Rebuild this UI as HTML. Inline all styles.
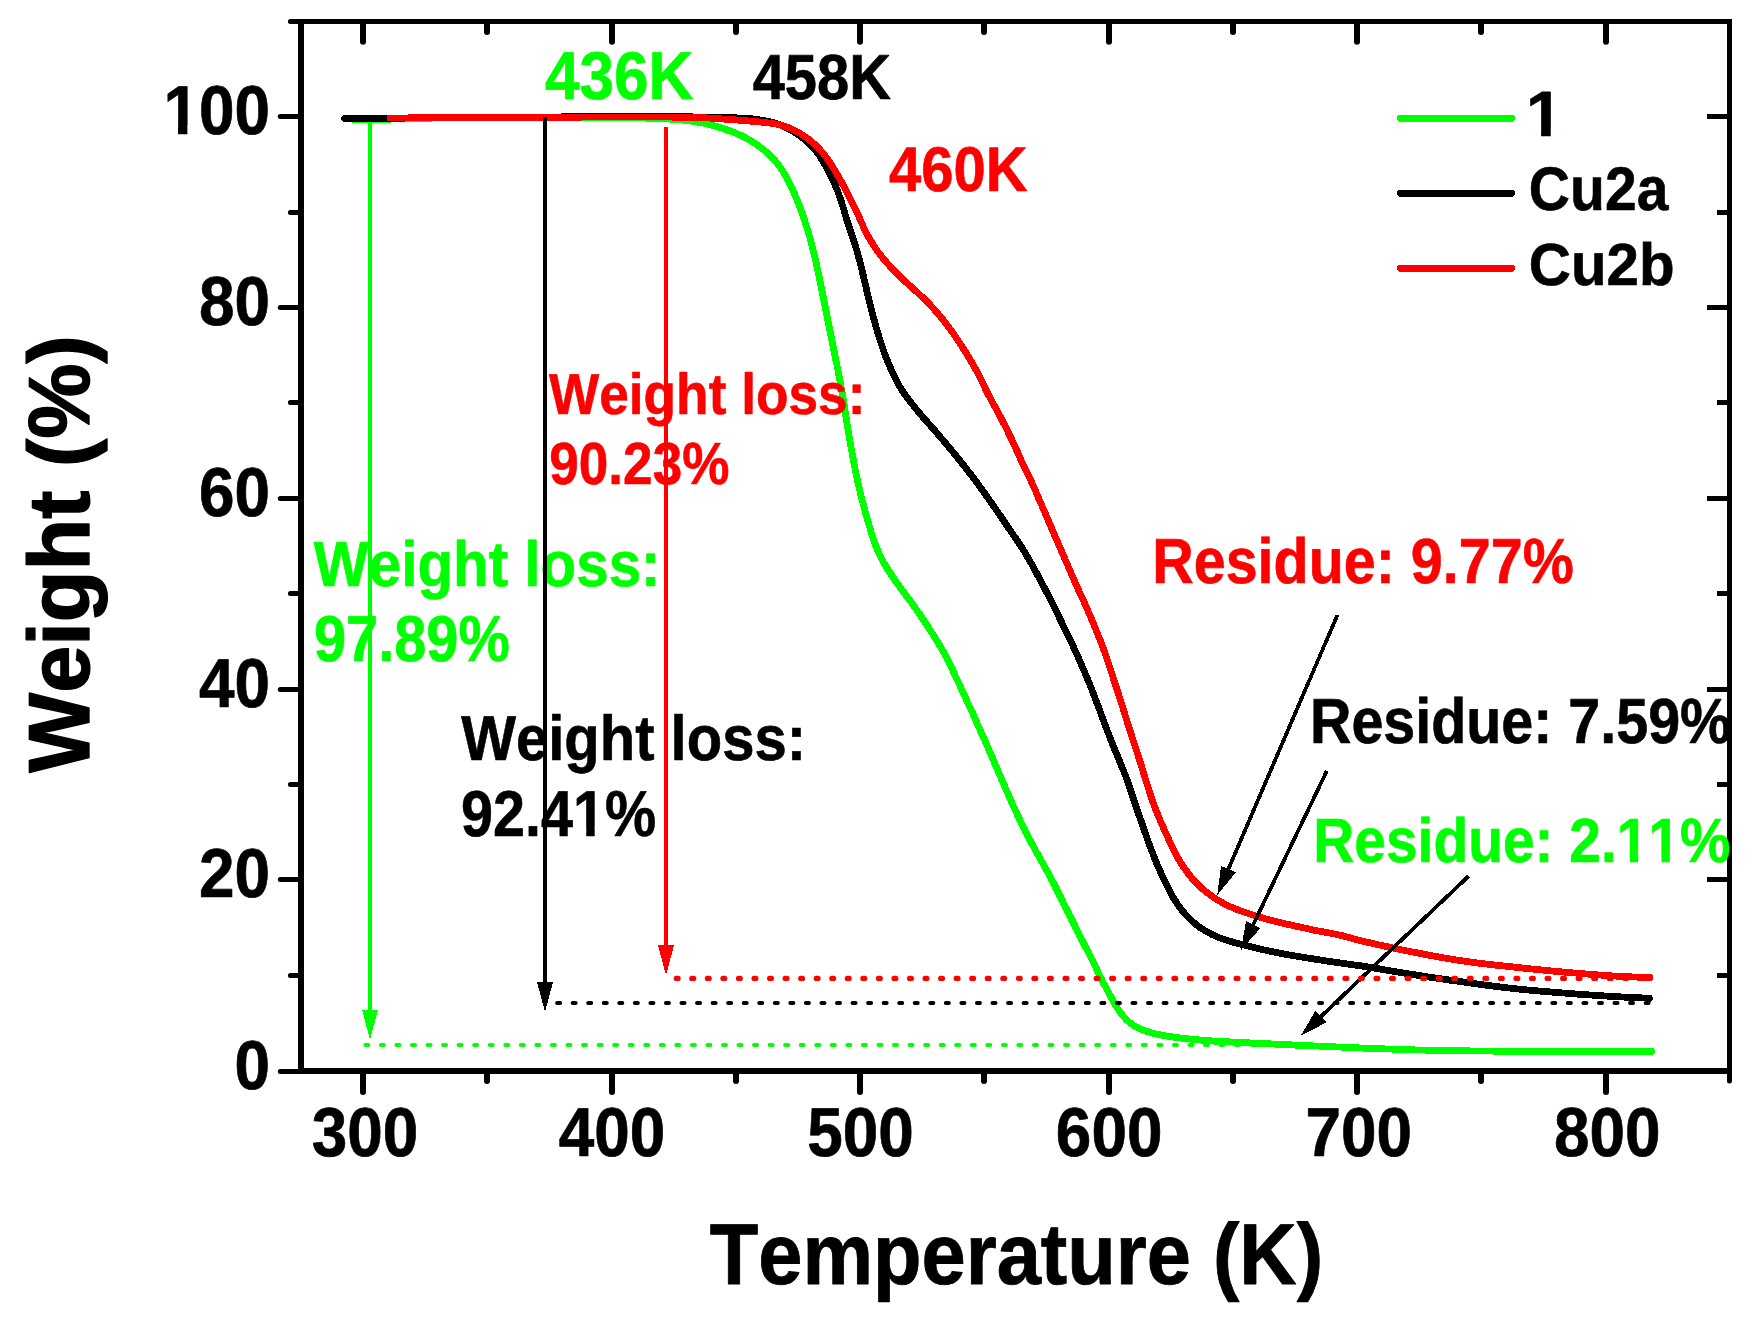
<!DOCTYPE html>
<html><head><meta charset="utf-8"><title>TGA</title>
<style>html,body{margin:0;padding:0;background:#fff}svg{display:block}</style>
</head><body>
<svg width="1752" height="1318" viewBox="0 0 1752 1318">
<rect x="0" y="0" width="1752" height="1318" fill="#ffffff"/>
<g shape-rendering="crispEdges">
<path d="M354.5 120.0 C355.5 120.0 358.5 119.9 360.5 119.8 C362.5 119.8 364.5 119.7 366.5 119.7 C368.5 119.6 370.5 119.5 372.5 119.5 C374.5 119.4 376.5 119.4 378.5 119.3 C380.5 119.3 382.5 119.2 384.5 119.2 C386.5 119.1 388.5 119.1 390.5 119.1 C392.5 119.0 394.5 119.0 396.5 118.9 C398.5 118.9 400.5 118.8 402.5 118.8 C404.5 118.7 406.5 118.7 408.5 118.6 C410.5 118.6 412.5 118.6 414.5 118.5 C416.5 118.5 418.5 118.4 420.5 118.4 C422.5 118.3 424.5 118.3 426.5 118.3 C428.5 118.2 430.5 118.2 432.5 118.1 C434.5 118.1 436.5 118.1 438.5 118.0 C440.5 118.0 442.5 118.0 444.5 118.0 C446.5 117.9 448.5 117.9 450.5 117.9 C452.5 117.9 454.5 117.9 456.6 117.9 C458.6 117.8 460.6 117.8 462.6 117.8 C464.6 117.8 466.6 117.8 468.6 117.8 C470.6 117.8 472.6 117.8 474.6 117.8 C476.6 117.8 478.6 117.8 480.6 117.7 C482.6 117.7 484.6 117.7 486.6 117.7 C488.6 117.7 490.6 117.7 492.6 117.7 C494.6 117.7 496.6 117.7 498.6 117.7 C500.6 117.7 502.6 117.7 504.6 117.7 C506.6 117.7 508.6 117.7 510.6 117.7 C512.6 117.7 514.6 117.7 516.6 117.7 C518.6 117.7 520.6 117.7 522.6 117.7 C524.6 117.7 526.6 117.7 528.6 117.6 C530.6 117.6 532.6 117.6 534.6 117.6 C536.6 117.6 538.6 117.6 540.6 117.6 C542.6 117.6 544.6 117.6 546.6 117.6 C548.6 117.6 550.6 117.6 552.6 117.6 C554.6 117.6 556.6 117.6 558.6 117.6 C560.6 117.6 562.6 117.6 564.6 117.6 C566.6 117.6 568.6 117.6 570.6 117.6 C572.6 117.6 574.6 117.6 576.6 117.6 C578.6 117.6 580.6 117.6 582.6 117.6 C584.6 117.6 586.6 117.6 588.6 117.6 C590.6 117.6 592.6 117.6 594.7 117.6 C596.7 117.6 598.7 117.6 600.7 117.6 C602.7 117.6 604.7 117.6 606.7 117.6 C608.7 117.6 610.7 117.6 612.7 117.6 C614.7 117.6 616.7 117.6 618.7 117.6 C620.7 117.6 622.7 117.6 624.7 117.7 C626.7 117.7 628.7 117.7 630.7 117.7 C632.7 117.8 634.7 117.8 636.7 117.8 C638.7 117.9 640.7 117.9 642.7 118.0 C644.7 118.0 646.7 118.1 648.7 118.2 C650.7 118.2 652.7 118.3 654.7 118.4 C656.7 118.4 658.7 118.5 660.7 118.6 C662.7 118.7 664.7 118.8 666.7 118.9 C668.7 119.0 670.7 119.1 672.7 119.3 C674.7 119.4 676.7 119.5 678.7 119.7 C680.7 119.9 682.6 120.1 684.6 120.3 C686.6 120.5 688.6 120.7 690.6 121.0 C692.6 121.2 694.6 121.5 696.5 121.9 C698.5 122.2 700.5 122.6 702.4 123.0 C704.4 123.4 706.3 123.8 708.3 124.3 C710.2 124.7 712.2 125.2 714.1 125.8 C716.0 126.3 718.0 126.8 719.9 127.4 C721.8 128.0 723.7 128.6 725.6 129.3 C727.5 129.9 729.4 130.6 731.2 131.3 C733.1 132.0 734.9 132.8 736.8 133.6 C738.6 134.4 740.4 135.2 742.2 136.1 C744.0 137.0 745.8 137.9 747.5 138.9 C749.3 139.9 751.0 140.9 752.7 141.9 C754.4 143.0 756.1 144.1 757.7 145.2 C759.3 146.4 760.9 147.6 762.5 148.8 C764.1 150.1 765.6 151.4 767.1 152.7 C768.6 154.0 770.0 155.4 771.4 156.8 C772.8 158.2 774.2 159.7 775.5 161.2 C776.8 162.7 778.0 164.3 779.2 165.9 C780.4 167.5 781.5 169.2 782.6 170.8 C783.7 172.5 784.7 174.2 785.7 176.0 C786.7 177.7 787.6 179.5 788.5 181.3 C789.4 183.1 790.3 184.9 791.1 186.7 C792.0 188.5 792.8 190.3 793.7 192.1 C794.5 193.9 795.3 195.8 796.1 197.6 C796.9 199.4 797.6 201.3 798.4 203.2 C799.1 205.0 799.8 206.9 800.5 208.8 C801.2 210.6 801.9 212.5 802.6 214.4 C803.2 216.3 803.9 218.2 804.5 220.1 C805.1 222.0 805.7 223.9 806.3 225.8 C806.9 227.7 807.5 229.6 808.1 231.5 C808.6 233.5 809.2 235.4 809.7 237.3 C810.3 239.2 810.8 241.2 811.3 243.1 C811.8 245.0 812.3 247.0 812.8 248.9 C813.3 250.9 813.8 252.8 814.3 254.8 C814.7 256.7 815.2 258.6 815.6 260.6 C816.1 262.6 816.5 264.5 816.9 266.5 C817.3 268.4 817.8 270.4 818.2 272.3 C818.6 274.3 819.0 276.2 819.4 278.2 C819.8 280.2 820.2 282.1 820.6 284.1 C821.1 286.0 821.5 288.0 821.8 290.0 C822.2 291.9 822.6 293.9 823.0 295.9 C823.4 297.8 823.8 299.8 824.2 301.7 C824.6 303.7 825.0 305.7 825.3 307.6 C825.7 309.6 826.1 311.6 826.5 313.5 C826.9 315.5 827.3 317.5 827.7 319.4 C828.1 321.4 828.5 323.3 828.9 325.3 C829.3 327.3 829.6 329.2 830.0 331.2 C830.4 333.2 830.8 335.1 831.2 337.1 C831.6 339.0 832.0 341.0 832.4 343.0 C832.8 344.9 833.2 346.9 833.6 348.9 C834.0 350.8 834.4 352.8 834.8 354.7 C835.2 356.7 835.6 358.7 836.0 360.6 C836.4 362.6 836.8 364.5 837.2 366.5 C837.6 368.5 838.0 370.4 838.4 372.4 C838.7 374.4 839.1 376.3 839.5 378.3 C839.9 380.2 840.3 382.2 840.6 384.2 C841.0 386.1 841.3 388.1 841.7 390.1 C842.0 392.1 842.4 394.0 842.7 396.0 C843.0 398.0 843.3 400.0 843.6 401.9 C844.0 403.9 844.3 405.9 844.6 407.9 C844.9 409.8 845.2 411.8 845.5 413.8 C845.8 415.8 846.1 417.8 846.5 419.7 C846.8 421.7 847.1 423.7 847.4 425.7 C847.7 427.6 848.1 429.6 848.4 431.6 C848.7 433.6 849.0 435.5 849.4 437.5 C849.7 439.5 850.0 441.5 850.4 443.4 C850.7 445.4 851.0 447.4 851.4 449.3 C851.8 451.3 852.1 453.3 852.5 455.2 C852.8 457.2 853.2 459.2 853.6 461.2 C854.0 463.1 854.3 465.1 854.7 467.0 C855.1 469.0 855.5 471.0 855.9 472.9 C856.3 474.9 856.7 476.9 857.1 478.8 C857.5 480.8 858.0 482.7 858.4 484.7 C858.9 486.6 859.3 488.6 859.8 490.5 C860.2 492.5 860.7 494.4 861.2 496.4 C861.7 498.3 862.2 500.2 862.7 502.2 C863.2 504.1 863.7 506.0 864.2 508.0 C864.7 509.9 865.2 511.9 865.8 513.8 C866.3 515.7 866.8 517.6 867.4 519.6 C868.0 521.5 868.5 523.4 869.1 525.3 C869.7 527.2 870.3 529.1 870.8 531.1 C871.4 533.0 872.0 534.9 872.6 536.8 C873.2 538.7 873.9 540.6 874.6 542.5 C875.2 544.3 876.0 546.2 876.7 548.1 C877.5 549.9 878.3 551.7 879.1 553.6 C880.0 555.4 880.8 557.2 881.8 559.0 C882.7 560.7 883.6 562.5 884.6 564.2 C885.6 565.9 886.7 567.7 887.7 569.4 C888.8 571.0 889.9 572.7 891.0 574.4 C892.1 576.0 893.3 577.7 894.4 579.3 C895.5 581.0 896.7 582.6 897.9 584.2 C899.1 585.8 900.2 587.5 901.4 589.1 C902.6 590.7 903.8 592.3 905.0 593.9 C906.2 595.5 907.4 597.1 908.6 598.7 C909.7 600.3 910.9 601.9 912.1 603.6 C913.3 605.2 914.5 606.8 915.6 608.4 C916.8 610.1 917.9 611.7 919.0 613.4 C920.2 615.0 921.3 616.7 922.4 618.4 C923.5 620.0 924.6 621.7 925.7 623.4 C926.8 625.0 927.9 626.7 929.0 628.4 C930.1 630.1 931.2 631.7 932.3 633.4 C933.4 635.1 934.4 636.8 935.5 638.5 C936.6 640.2 937.6 641.9 938.6 643.6 C939.7 645.3 940.7 647.0 941.7 648.8 C942.7 650.5 943.6 652.3 944.6 654.0 C945.5 655.8 946.4 657.6 947.4 659.3 C948.3 661.1 949.2 662.9 950.0 664.7 C950.9 666.5 951.8 668.3 952.6 670.1 C953.5 671.9 954.3 673.8 955.2 675.6 C956.0 677.4 956.9 679.2 957.7 681.0 C958.6 682.8 959.4 684.6 960.3 686.5 C961.1 688.3 961.9 690.1 962.8 691.9 C963.6 693.7 964.5 695.5 965.3 697.3 C966.2 699.2 967.0 701.0 967.8 702.8 C968.7 704.6 969.5 706.4 970.4 708.2 C971.2 710.1 972.0 711.9 972.9 713.7 C973.7 715.5 974.5 717.4 975.3 719.2 C976.1 721.0 976.9 722.8 977.7 724.7 C978.5 726.5 979.4 728.3 980.2 730.2 C981.0 732.0 981.8 733.8 982.6 735.6 C983.4 737.5 984.3 739.3 985.1 741.1 C985.9 743.0 986.7 744.8 987.5 746.6 C988.3 748.5 989.1 750.3 989.9 752.1 C990.7 754.0 991.5 755.8 992.3 757.6 C993.0 759.5 993.8 761.3 994.6 763.2 C995.4 765.0 996.2 766.8 997.0 768.7 C997.8 770.5 998.6 772.4 999.4 774.2 C1000.2 776.0 1001.0 777.9 1001.8 779.7 C1002.6 781.5 1003.4 783.4 1004.2 785.2 C1005.0 787.0 1005.8 788.9 1006.6 790.7 C1007.4 792.5 1008.2 794.4 1009.0 796.2 C1009.8 798.0 1010.6 799.9 1011.4 801.7 C1012.2 803.5 1013.0 805.4 1013.9 807.2 C1014.7 809.0 1015.6 810.8 1016.4 812.6 C1017.3 814.4 1018.1 816.2 1019.0 818.0 C1019.8 819.8 1020.7 821.6 1021.6 823.4 C1022.5 825.2 1023.4 827.0 1024.3 828.8 C1025.2 830.6 1026.1 832.4 1027.0 834.2 C1027.9 836.0 1028.8 837.7 1029.7 839.5 C1030.7 841.3 1031.6 843.1 1032.5 844.8 C1033.5 846.6 1034.4 848.4 1035.4 850.1 C1036.3 851.9 1037.3 853.6 1038.3 855.4 C1039.2 857.1 1040.2 858.9 1041.2 860.6 C1042.2 862.4 1043.2 864.1 1044.2 865.8 C1045.1 867.6 1046.1 869.3 1047.1 871.1 C1048.0 872.8 1049.0 874.6 1050.0 876.4 C1050.9 878.1 1051.8 879.9 1052.8 881.7 C1053.7 883.4 1054.6 885.2 1055.5 887.0 C1056.4 888.8 1057.3 890.6 1058.2 892.4 C1059.1 894.2 1060.0 895.9 1060.9 897.7 C1061.8 899.5 1062.7 901.3 1063.5 903.1 C1064.4 904.9 1065.3 906.7 1066.2 908.5 C1067.1 910.3 1068.0 912.1 1068.9 913.9 C1069.8 915.7 1070.7 917.5 1071.6 919.2 C1072.5 921.0 1073.4 922.8 1074.3 924.6 C1075.1 926.4 1076.0 928.2 1076.9 930.0 C1077.8 931.8 1078.7 933.6 1079.6 935.4 C1080.5 937.2 1081.4 938.9 1082.3 940.7 C1083.2 942.5 1084.1 944.3 1085.1 946.1 C1086.0 947.9 1086.9 949.6 1087.8 951.4 C1088.7 953.2 1089.6 955.0 1090.5 956.8 C1091.4 958.5 1092.3 960.3 1093.2 962.1 C1094.1 963.9 1095.0 965.7 1095.8 967.5 C1096.7 969.3 1097.6 971.1 1098.4 972.9 C1099.3 974.7 1100.2 976.5 1101.1 978.3 C1102.0 980.1 1102.9 981.9 1103.8 983.7 C1104.8 985.4 1105.7 987.2 1106.7 989.0 C1107.6 990.7 1108.5 992.5 1109.5 994.3 C1110.5 996.0 1111.4 997.8 1112.4 999.5 C1113.4 1001.3 1114.3 1003.0 1115.4 1004.7 C1116.4 1006.4 1117.4 1008.2 1118.5 1009.8 C1119.6 1011.5 1120.8 1013.1 1122.0 1014.7 C1123.3 1016.2 1124.6 1017.8 1125.9 1019.2 C1127.3 1020.6 1128.8 1021.9 1130.4 1023.1 C1131.9 1024.4 1133.6 1025.5 1135.3 1026.5 C1137.0 1027.4 1138.8 1028.3 1140.6 1029.1 C1142.5 1029.9 1144.3 1030.6 1146.2 1031.2 C1148.1 1031.8 1150.1 1032.4 1152.0 1032.9 C1153.9 1033.4 1155.9 1033.9 1157.8 1034.3 C1159.8 1034.7 1161.7 1035.1 1163.7 1035.5 C1165.7 1035.9 1167.6 1036.2 1169.6 1036.5 C1171.6 1036.8 1173.6 1037.1 1175.5 1037.4 C1177.5 1037.7 1179.5 1037.9 1181.5 1038.2 C1183.5 1038.4 1185.5 1038.6 1187.5 1038.8 C1189.5 1039.0 1191.4 1039.2 1193.4 1039.4 C1195.4 1039.6 1197.4 1039.8 1199.4 1040.0 C1201.4 1040.1 1203.4 1040.3 1205.4 1040.4 C1207.4 1040.6 1209.4 1040.8 1211.4 1040.9 C1213.4 1041.0 1215.4 1041.2 1217.4 1041.3 C1219.4 1041.4 1221.4 1041.5 1223.4 1041.6 C1225.4 1041.7 1227.4 1041.8 1229.4 1041.9 C1231.4 1042.0 1233.4 1042.1 1235.4 1042.2 C1237.4 1042.3 1239.4 1042.4 1241.4 1042.5 C1243.4 1042.6 1245.4 1042.7 1247.4 1042.8 C1249.4 1042.9 1251.4 1043.0 1253.4 1043.1 C1255.4 1043.2 1257.4 1043.3 1259.4 1043.4 C1261.4 1043.5 1263.4 1043.6 1265.4 1043.7 C1267.4 1043.8 1269.4 1043.9 1271.4 1043.9 C1273.4 1044.0 1275.4 1044.1 1277.4 1044.2 C1279.4 1044.3 1281.4 1044.4 1283.4 1044.5 C1285.4 1044.6 1287.4 1044.7 1289.4 1044.8 C1291.4 1044.9 1293.4 1045.0 1295.3 1045.1 C1297.3 1045.1 1299.3 1045.2 1301.3 1045.3 C1303.3 1045.4 1305.3 1045.5 1307.3 1045.6 C1309.3 1045.7 1311.3 1045.8 1313.3 1045.9 C1315.3 1046.0 1317.3 1046.0 1319.3 1046.1 C1321.3 1046.2 1323.3 1046.3 1325.3 1046.4 C1327.3 1046.5 1329.3 1046.6 1331.3 1046.7 C1333.3 1046.8 1335.3 1046.9 1337.3 1047.0 C1339.3 1047.0 1341.3 1047.1 1343.3 1047.2 C1345.3 1047.3 1347.3 1047.4 1349.3 1047.5 C1351.3 1047.6 1353.3 1047.7 1355.3 1047.8 C1357.3 1047.8 1359.3 1047.9 1361.3 1048.0 C1363.3 1048.1 1365.3 1048.2 1367.3 1048.3 C1369.3 1048.3 1371.3 1048.4 1373.3 1048.5 C1375.3 1048.6 1377.3 1048.7 1379.3 1048.7 C1381.3 1048.8 1383.3 1048.9 1385.3 1048.9 C1387.3 1049.0 1389.3 1049.1 1391.3 1049.1 C1393.3 1049.2 1395.3 1049.3 1397.3 1049.3 C1399.3 1049.4 1401.3 1049.5 1403.3 1049.5 C1405.3 1049.6 1407.3 1049.6 1409.3 1049.7 C1411.3 1049.7 1413.3 1049.8 1415.3 1049.9 C1417.3 1049.9 1419.3 1050.0 1421.3 1050.0 C1423.3 1050.1 1425.3 1050.1 1427.3 1050.2 C1429.3 1050.2 1431.3 1050.2 1433.3 1050.3 C1435.3 1050.3 1437.3 1050.4 1439.4 1050.4 C1441.4 1050.5 1443.4 1050.5 1445.4 1050.5 C1447.4 1050.6 1449.4 1050.6 1451.4 1050.6 C1453.4 1050.7 1455.4 1050.7 1457.4 1050.7 C1459.4 1050.7 1461.4 1050.8 1463.4 1050.8 C1465.4 1050.8 1467.4 1050.8 1469.4 1050.9 C1471.4 1050.9 1473.4 1050.9 1475.4 1050.9 C1477.4 1051.0 1479.4 1051.0 1481.4 1051.0 C1483.4 1051.0 1485.4 1051.0 1487.4 1051.0 C1489.4 1051.0 1491.4 1051.1 1493.4 1051.1 C1495.4 1051.1 1497.4 1051.1 1499.4 1051.1 C1501.4 1051.1 1503.4 1051.1 1505.4 1051.1 C1507.4 1051.1 1509.4 1051.1 1511.4 1051.2 C1513.4 1051.2 1515.4 1051.2 1517.4 1051.2 C1519.4 1051.2 1521.4 1051.2 1523.4 1051.2 C1525.4 1051.2 1527.4 1051.2 1529.4 1051.2 C1531.4 1051.2 1533.4 1051.2 1535.4 1051.2 C1537.4 1051.2 1539.4 1051.2 1541.4 1051.2 C1543.4 1051.3 1545.4 1051.3 1547.4 1051.3 C1549.4 1051.3 1551.4 1051.3 1553.4 1051.3 C1555.4 1051.3 1557.4 1051.3 1559.4 1051.3 C1561.4 1051.3 1563.4 1051.3 1565.4 1051.3 C1567.4 1051.3 1569.4 1051.3 1571.4 1051.3 C1573.4 1051.3 1575.4 1051.3 1577.4 1051.3 C1579.4 1051.3 1581.4 1051.3 1583.5 1051.3 C1585.5 1051.3 1587.5 1051.3 1589.5 1051.3 C1591.5 1051.3 1593.5 1051.3 1595.5 1051.3 C1597.5 1051.3 1599.5 1051.3 1601.5 1051.3 C1603.5 1051.3 1605.5 1051.3 1607.5 1051.3 C1609.5 1051.3 1611.5 1051.3 1613.5 1051.3 C1615.5 1051.3 1617.5 1051.3 1619.5 1051.3 C1621.5 1051.3 1623.5 1051.3 1625.5 1051.3 C1627.5 1051.3 1629.5 1051.3 1631.5 1051.3 C1633.5 1051.3 1635.5 1051.3 1637.5 1051.3 C1639.5 1051.3 1641.5 1051.3 1643.5 1051.3 C1645.5 1051.3 1648.2 1051.3 1649.5 1051.3 C1650.8 1051.3 1651.2 1051.3 1651.5 1051.3" fill="none" stroke="#00ff00" stroke-width="6.8" stroke-linecap="round" stroke-linejoin="round"/>
<path d="M344.5 118.5 C345.5 118.5 348.5 118.5 350.5 118.5 C352.5 118.5 354.5 118.5 356.5 118.5 C358.5 118.5 360.5 118.4 362.5 118.4 C364.5 118.4 366.5 118.4 368.5 118.4 C370.5 118.4 372.5 118.4 374.5 118.4 C376.5 118.4 378.5 118.4 380.5 118.3 C382.5 118.3 384.5 118.3 386.5 118.3 C388.5 118.3 390.5 118.3 392.5 118.2 C394.5 118.2 396.5 118.2 398.5 118.2 C400.5 118.1 402.5 118.1 404.5 118.1 C406.5 118.1 408.5 118.1 410.5 118.0 C412.5 118.0 414.5 118.0 416.5 118.0 C418.5 117.9 420.5 117.9 422.5 117.9 C424.5 117.9 426.5 117.8 428.5 117.8 C430.5 117.8 432.5 117.8 434.5 117.8 C436.5 117.7 438.5 117.7 440.5 117.7 C442.5 117.7 444.5 117.7 446.5 117.6 C448.5 117.6 450.5 117.6 452.5 117.6 C454.5 117.6 456.5 117.5 458.5 117.5 C460.6 117.5 462.6 117.5 464.6 117.5 C466.6 117.5 468.6 117.5 470.6 117.4 C472.6 117.4 474.6 117.4 476.6 117.4 C478.6 117.4 480.6 117.4 482.6 117.4 C484.6 117.3 486.6 117.3 488.6 117.3 C490.6 117.3 492.6 117.3 494.6 117.3 C496.6 117.3 498.6 117.3 500.6 117.2 C502.6 117.2 504.6 117.2 506.6 117.2 C508.6 117.2 510.6 117.2 512.6 117.2 C514.6 117.2 516.6 117.1 518.6 117.1 C520.6 117.1 522.6 117.1 524.6 117.1 C526.6 117.1 528.6 117.1 530.6 117.1 C532.6 117.0 534.6 117.0 536.6 117.0 C538.6 117.0 540.6 117.0 542.6 117.0 C544.6 117.0 546.6 117.0 548.6 116.9 C550.6 116.9 552.6 116.9 554.6 116.9 C556.6 116.9 558.6 116.9 560.6 116.9 C562.6 116.9 564.6 116.8 566.6 116.8 C568.6 116.8 570.6 116.8 572.6 116.8 C574.6 116.8 576.6 116.8 578.6 116.8 C580.6 116.8 582.6 116.7 584.6 116.7 C586.6 116.7 588.6 116.7 590.6 116.7 C592.6 116.7 594.6 116.7 596.6 116.7 C598.6 116.7 600.6 116.7 602.6 116.7 C604.6 116.7 606.6 116.7 608.6 116.7 C610.6 116.7 612.6 116.7 614.6 116.7 C616.6 116.7 618.6 116.7 620.6 116.7 C622.6 116.7 624.6 116.7 626.6 116.7 C628.6 116.7 630.6 116.7 632.6 116.7 C634.6 116.7 636.6 116.7 638.6 116.7 C640.6 116.7 642.6 116.7 644.6 116.7 C646.6 116.7 648.6 116.7 650.6 116.7 C652.6 116.7 654.6 116.7 656.6 116.7 C658.6 116.7 660.6 116.7 662.6 116.7 C664.6 116.7 666.6 116.7 668.6 116.7 C670.6 116.7 672.6 116.7 674.6 116.7 C676.7 116.7 678.7 116.8 680.7 116.8 C682.7 116.8 684.7 116.8 686.7 116.8 C688.7 116.8 690.7 116.9 692.7 116.9 C694.7 116.9 696.7 116.9 698.7 117.0 C700.7 117.0 702.7 117.0 704.7 117.1 C706.7 117.1 708.7 117.1 710.7 117.2 C712.7 117.2 714.7 117.3 716.7 117.3 C718.7 117.4 720.7 117.4 722.7 117.5 C724.7 117.5 726.7 117.6 728.7 117.6 C730.7 117.7 732.7 117.7 734.7 117.8 C736.7 117.9 738.7 118.0 740.7 118.1 C742.7 118.1 744.7 118.2 746.7 118.4 C748.6 118.5 750.6 118.7 752.6 118.9 C754.6 119.1 756.6 119.4 758.6 119.7 C760.6 120.0 762.5 120.3 764.5 120.7 C766.4 121.1 768.4 121.5 770.3 121.9 C772.3 122.4 774.2 122.9 776.1 123.5 C778.0 124.2 779.9 124.8 781.7 125.6 C783.6 126.4 785.4 127.2 787.2 128.1 C788.9 129.0 790.7 130.0 792.4 131.0 C794.1 132.0 795.8 133.1 797.5 134.2 C799.1 135.3 800.7 136.5 802.3 137.7 C803.9 138.9 805.5 140.2 807.0 141.5 C808.5 142.8 809.9 144.2 811.3 145.6 C812.7 147.0 814.0 148.5 815.3 150.1 C816.5 151.6 817.7 153.2 818.9 154.9 C820.0 156.5 821.1 158.2 822.1 159.9 C823.1 161.6 824.1 163.4 825.1 165.1 C826.0 166.9 827.0 168.6 827.9 170.4 C828.8 172.2 829.8 173.9 830.7 175.7 C831.6 177.5 832.4 179.3 833.3 181.1 C834.1 182.9 835.0 184.8 835.8 186.6 C836.6 188.4 837.3 190.3 838.0 192.1 C838.7 194.0 839.4 195.9 840.1 197.8 C840.7 199.7 841.3 201.6 841.9 203.5 C842.5 205.4 843.1 207.3 843.7 209.2 C844.3 211.1 844.8 213.1 845.4 215.0 C846.0 216.9 846.5 218.8 847.1 220.7 C847.7 222.6 848.3 224.5 849.0 226.4 C849.6 228.3 850.2 230.2 850.8 232.1 C851.5 234.0 852.1 235.9 852.8 237.8 C853.4 239.7 854.0 241.6 854.7 243.5 C855.3 245.4 855.9 247.3 856.4 249.3 C857.0 251.2 857.6 253.1 858.1 255.0 C858.6 256.9 859.1 258.9 859.6 260.8 C860.1 262.8 860.6 264.7 861.1 266.6 C861.6 268.6 862.1 270.5 862.5 272.5 C863.0 274.4 863.5 276.4 863.9 278.3 C864.4 280.3 864.8 282.2 865.3 284.2 C865.7 286.1 866.2 288.1 866.6 290.0 C867.1 292.0 867.5 293.9 868.0 295.9 C868.4 297.8 868.9 299.8 869.4 301.7 C869.8 303.6 870.3 305.6 870.8 307.5 C871.3 309.5 871.8 311.4 872.3 313.3 C872.8 315.3 873.4 317.2 873.9 319.1 C874.4 321.1 875.0 323.0 875.5 324.9 C876.1 326.8 876.6 328.8 877.2 330.7 C877.7 332.6 878.3 334.5 878.9 336.4 C879.5 338.3 880.1 340.3 880.7 342.2 C881.3 344.1 881.9 346.0 882.6 347.8 C883.3 349.7 883.9 351.6 884.6 353.5 C885.3 355.4 886.0 357.2 886.8 359.1 C887.5 361.0 888.3 362.8 889.1 364.6 C889.8 366.5 890.7 368.3 891.5 370.1 C892.3 371.9 893.2 373.8 894.0 375.6 C894.9 377.4 895.8 379.2 896.7 380.9 C897.6 382.7 898.5 384.5 899.5 386.2 C900.5 387.9 901.6 389.6 902.7 391.3 C903.8 393.0 905.0 394.6 906.1 396.2 C907.3 397.8 908.5 399.4 909.8 401.0 C911.0 402.6 912.2 404.2 913.5 405.7 C914.7 407.3 916.0 408.8 917.2 410.4 C918.5 411.9 919.8 413.5 921.1 415.0 C922.4 416.5 923.7 418.0 925.0 419.5 C926.3 421.0 927.7 422.5 929.0 424.0 C930.3 425.5 931.7 427.0 933.0 428.5 C934.3 430.0 935.6 431.5 936.9 433.0 C938.2 434.5 939.5 436.1 940.8 437.6 C942.1 439.1 943.4 440.6 944.7 442.2 C946.0 443.7 947.3 445.2 948.6 446.8 C949.8 448.3 951.1 449.8 952.4 451.4 C953.7 452.9 954.9 454.5 956.2 456.0 C957.4 457.6 958.7 459.2 960.0 460.7 C961.2 462.3 962.5 463.8 963.7 465.4 C964.9 467.0 966.2 468.5 967.4 470.1 C968.6 471.7 969.9 473.3 971.1 474.9 C972.3 476.5 973.5 478.1 974.7 479.7 C975.9 481.3 977.1 482.9 978.3 484.5 C979.5 486.1 980.6 487.7 981.8 489.3 C983.0 491.0 984.1 492.6 985.3 494.2 C986.4 495.9 987.6 497.5 988.7 499.1 C989.9 500.8 991.0 502.4 992.2 504.1 C993.3 505.7 994.5 507.3 995.6 509.0 C996.7 510.6 997.9 512.3 999.0 513.9 C1000.1 515.6 1001.3 517.2 1002.4 518.9 C1003.5 520.5 1004.6 522.2 1005.8 523.9 C1006.9 525.5 1008.0 527.2 1009.1 528.8 C1010.3 530.5 1011.4 532.1 1012.5 533.8 C1013.7 535.4 1014.8 537.1 1015.9 538.7 C1017.1 540.4 1018.2 542.0 1019.3 543.7 C1020.4 545.3 1021.5 547.0 1022.6 548.7 C1023.7 550.4 1024.7 552.1 1025.7 553.8 C1026.7 555.5 1027.7 557.3 1028.7 559.0 C1029.7 560.8 1030.7 562.5 1031.7 564.2 C1032.7 566.0 1033.6 567.7 1034.6 569.5 C1035.5 571.3 1036.5 573.0 1037.4 574.8 C1038.4 576.5 1039.3 578.3 1040.3 580.1 C1041.2 581.8 1042.2 583.6 1043.1 585.4 C1044.0 587.1 1045.0 588.9 1045.9 590.7 C1046.8 592.5 1047.7 594.2 1048.6 596.0 C1049.6 597.8 1050.5 599.6 1051.4 601.4 C1052.3 603.2 1053.2 604.9 1054.1 606.7 C1054.9 608.5 1055.8 610.3 1056.7 612.1 C1057.6 613.9 1058.5 615.7 1059.3 617.5 C1060.2 619.3 1061.1 621.1 1061.9 622.9 C1062.8 624.7 1063.7 626.5 1064.6 628.3 C1065.4 630.1 1066.3 631.9 1067.2 633.7 C1068.1 635.5 1068.9 637.3 1069.8 639.1 C1070.7 640.9 1071.5 642.7 1072.4 644.6 C1073.2 646.4 1074.0 648.2 1074.9 650.0 C1075.7 651.8 1076.5 653.6 1077.4 655.5 C1078.2 657.3 1079.0 659.1 1079.8 661.0 C1080.6 662.8 1081.4 664.6 1082.2 666.5 C1083.0 668.3 1083.8 670.1 1084.6 672.0 C1085.4 673.8 1086.2 675.6 1086.9 677.5 C1087.7 679.3 1088.5 681.2 1089.2 683.0 C1090.0 684.9 1090.7 686.8 1091.4 688.6 C1092.2 690.5 1092.9 692.3 1093.6 694.2 C1094.3 696.1 1095.0 698.0 1095.7 699.8 C1096.4 701.7 1097.2 703.6 1097.9 705.4 C1098.6 707.3 1099.3 709.2 1100.0 711.1 C1100.7 712.9 1101.3 714.8 1102.0 716.7 C1102.7 718.6 1103.4 720.4 1104.1 722.3 C1104.8 724.2 1105.5 726.1 1106.2 727.9 C1107.0 729.8 1107.7 731.7 1108.4 733.5 C1109.1 735.4 1109.9 737.3 1110.6 739.1 C1111.3 741.0 1112.1 742.8 1112.8 744.7 C1113.6 746.6 1114.3 748.4 1115.1 750.3 C1115.8 752.1 1116.6 754.0 1117.4 755.8 C1118.1 757.7 1118.9 759.5 1119.6 761.4 C1120.4 763.2 1121.2 765.1 1121.9 766.9 C1122.7 768.8 1123.5 770.6 1124.2 772.5 C1125.0 774.3 1125.7 776.2 1126.4 778.1 C1127.1 779.9 1127.8 781.8 1128.4 783.7 C1129.1 785.6 1129.7 787.5 1130.4 789.4 C1131.0 791.3 1131.6 793.2 1132.2 795.1 C1132.8 797.0 1133.4 798.9 1134.1 800.8 C1134.7 802.7 1135.3 804.6 1136.0 806.5 C1136.6 808.4 1137.3 810.3 1137.9 812.2 C1138.6 814.1 1139.3 815.9 1140.0 817.8 C1140.6 819.7 1141.3 821.6 1142.0 823.5 C1142.6 825.4 1143.3 827.3 1143.9 829.2 C1144.6 831.0 1145.2 832.9 1145.9 834.8 C1146.5 836.7 1147.1 838.6 1147.8 840.5 C1148.5 842.4 1149.2 844.3 1149.9 846.1 C1150.6 848.0 1151.3 849.9 1152.1 851.7 C1152.8 853.6 1153.5 855.5 1154.3 857.3 C1155.0 859.2 1155.8 861.0 1156.5 862.9 C1157.3 864.7 1158.1 866.6 1158.9 868.4 C1159.7 870.2 1160.5 872.1 1161.3 873.9 C1162.1 875.7 1163.0 877.5 1163.8 879.3 C1164.7 881.1 1165.6 882.9 1166.4 884.7 C1167.3 886.5 1168.2 888.3 1169.2 890.1 C1170.1 891.9 1171.0 893.6 1172.0 895.4 C1173.0 897.1 1174.0 898.8 1175.1 900.5 C1176.2 902.2 1177.3 903.9 1178.4 905.5 C1179.6 907.1 1180.8 908.7 1182.0 910.3 C1183.3 911.8 1184.6 913.4 1185.9 914.8 C1187.3 916.3 1188.6 917.8 1190.1 919.2 C1191.5 920.5 1193.0 921.9 1194.5 923.2 C1196.0 924.5 1197.6 925.7 1199.2 926.9 C1200.8 928.0 1202.5 929.1 1204.2 930.2 C1205.9 931.2 1207.6 932.2 1209.4 933.1 C1211.2 934.1 1213.0 935.0 1214.8 935.8 C1216.6 936.6 1218.5 937.4 1220.3 938.1 C1222.2 938.8 1224.1 939.4 1226.0 940.1 C1227.9 940.7 1229.8 941.2 1231.7 941.8 C1233.6 942.3 1235.6 942.9 1237.5 943.4 C1239.4 943.9 1241.4 944.4 1243.3 944.9 C1245.2 945.4 1247.2 945.9 1249.1 946.4 C1251.1 946.9 1253.0 947.4 1255.0 947.8 C1256.9 948.3 1258.8 948.7 1260.8 949.2 C1262.7 949.6 1264.7 950.1 1266.7 950.5 C1268.6 950.9 1270.6 951.3 1272.5 951.7 C1274.5 952.1 1276.4 952.5 1278.4 952.9 C1280.4 953.3 1282.3 953.7 1284.3 954.0 C1286.3 954.4 1288.2 954.8 1290.2 955.1 C1292.2 955.5 1294.2 955.8 1296.1 956.1 C1298.1 956.5 1300.1 956.8 1302.1 957.1 C1304.0 957.4 1306.0 957.8 1308.0 958.1 C1310.0 958.4 1311.9 958.7 1313.9 959.0 C1315.9 959.3 1317.9 959.6 1319.8 959.9 C1321.8 960.2 1323.8 960.6 1325.8 960.9 C1327.7 961.2 1329.7 961.5 1331.7 961.8 C1333.7 962.0 1335.7 962.3 1337.6 962.6 C1339.6 962.9 1341.6 963.2 1343.6 963.5 C1345.6 963.7 1347.6 964.0 1349.5 964.3 C1351.5 964.5 1353.5 964.8 1355.5 965.1 C1357.5 965.4 1359.4 965.6 1361.4 965.9 C1363.4 966.3 1365.4 966.6 1367.4 966.9 C1369.3 967.2 1371.3 967.5 1373.3 967.9 C1375.2 968.2 1377.2 968.6 1379.2 968.9 C1381.2 969.2 1383.1 969.6 1385.1 969.9 C1387.1 970.2 1389.0 970.6 1391.0 970.9 C1393.0 971.3 1395.0 971.6 1396.9 971.9 C1398.9 972.3 1400.9 972.6 1402.9 972.9 C1404.8 973.2 1406.8 973.6 1408.8 973.9 C1410.8 974.2 1412.7 974.5 1414.7 974.8 C1416.7 975.2 1418.7 975.5 1420.6 975.8 C1422.6 976.1 1424.6 976.4 1426.6 976.7 C1428.6 977.0 1430.5 977.3 1432.5 977.6 C1434.5 977.9 1436.5 978.2 1438.4 978.5 C1440.4 978.8 1442.4 979.1 1444.4 979.3 C1446.4 979.6 1448.3 979.9 1450.3 980.2 C1452.3 980.5 1454.3 980.8 1456.3 981.0 C1458.2 981.3 1460.2 981.6 1462.2 981.9 C1464.2 982.2 1466.2 982.4 1468.2 982.7 C1470.1 983.0 1472.1 983.3 1474.1 983.5 C1476.1 983.8 1478.1 984.1 1480.1 984.4 C1482.0 984.6 1484.0 984.9 1486.0 985.2 C1488.0 985.4 1490.0 985.7 1492.0 985.9 C1493.9 986.2 1495.9 986.5 1497.9 986.7 C1499.9 986.9 1501.9 987.2 1503.9 987.4 C1505.9 987.7 1507.8 987.9 1509.8 988.1 C1511.8 988.4 1513.8 988.6 1515.8 988.8 C1517.8 989.0 1519.8 989.2 1521.8 989.4 C1523.8 989.6 1525.7 989.8 1527.7 990.0 C1529.7 990.2 1531.7 990.4 1533.7 990.5 C1535.7 990.7 1537.7 990.9 1539.7 991.1 C1541.7 991.3 1543.7 991.4 1545.7 991.6 C1547.7 991.8 1549.7 991.9 1551.7 992.1 C1553.7 992.2 1555.6 992.4 1557.6 992.6 C1559.6 992.7 1561.6 992.9 1563.6 993.0 C1565.6 993.2 1567.6 993.4 1569.6 993.5 C1571.6 993.7 1573.6 993.8 1575.6 994.0 C1577.6 994.1 1579.6 994.2 1581.6 994.4 C1583.6 994.5 1585.6 994.7 1587.6 994.8 C1589.6 994.9 1591.6 995.1 1593.6 995.2 C1595.6 995.3 1597.6 995.5 1599.5 995.6 C1601.5 995.7 1603.5 995.9 1605.5 996.0 C1607.5 996.1 1609.5 996.2 1611.5 996.4 C1613.5 996.5 1615.5 996.6 1617.5 996.7 C1619.5 996.8 1621.5 996.9 1623.5 997.1 C1625.5 997.2 1627.5 997.3 1629.5 997.4 C1631.5 997.5 1633.5 997.6 1635.5 997.7 C1637.5 997.7 1639.5 997.8 1641.5 997.9 C1643.5 998.0 1646.2 998.1 1647.5 998.2 C1648.8 998.3 1649.2 998.3 1649.5 998.3" fill="none" stroke="#000000" stroke-width="6.8" stroke-linecap="round" stroke-linejoin="round"/>
<path d="M390.0 118.0 C391.0 118.0 394.0 118.0 396.0 118.0 C398.0 117.9 400.0 117.9 402.0 117.9 C404.0 117.9 406.0 117.9 408.0 117.9 C410.0 117.9 412.0 117.8 414.0 117.8 C416.0 117.8 418.0 117.8 420.0 117.8 C422.0 117.8 424.0 117.8 426.0 117.7 C428.0 117.7 430.0 117.7 432.0 117.7 C434.0 117.7 436.0 117.7 438.0 117.7 C440.1 117.7 442.1 117.6 444.1 117.6 C446.1 117.6 448.1 117.6 450.1 117.6 C452.1 117.6 454.1 117.6 456.1 117.6 C458.1 117.6 460.1 117.5 462.1 117.5 C464.1 117.5 466.1 117.5 468.1 117.5 C470.1 117.5 472.1 117.5 474.1 117.5 C476.1 117.5 478.1 117.5 480.1 117.5 C482.1 117.4 484.1 117.4 486.1 117.4 C488.1 117.4 490.1 117.4 492.1 117.4 C494.1 117.4 496.1 117.4 498.1 117.4 C500.1 117.4 502.1 117.4 504.1 117.3 C506.1 117.3 508.1 117.3 510.1 117.3 C512.1 117.3 514.1 117.3 516.1 117.3 C518.1 117.3 520.1 117.3 522.1 117.3 C524.1 117.3 526.1 117.3 528.1 117.2 C530.1 117.2 532.1 117.2 534.1 117.2 C536.2 117.2 538.2 117.2 540.2 117.2 C542.2 117.2 544.2 117.2 546.2 117.2 C548.2 117.2 550.2 117.2 552.2 117.2 C554.2 117.1 556.2 117.1 558.2 117.1 C560.2 117.1 562.2 117.1 564.2 117.1 C566.2 117.1 568.2 117.1 570.2 117.1 C572.2 117.1 574.2 117.1 576.2 117.1 C578.2 117.1 580.2 117.1 582.2 117.1 C584.2 117.0 586.2 117.0 588.2 117.0 C590.2 117.0 592.2 117.0 594.2 117.0 C596.2 117.0 598.2 117.0 600.2 117.0 C602.2 117.0 604.2 117.0 606.2 117.0 C608.2 117.0 610.2 117.0 612.2 117.0 C614.2 116.9 616.2 116.9 618.2 116.9 C620.2 116.9 622.2 116.9 624.2 116.9 C626.2 116.9 628.2 116.9 630.2 116.9 C632.3 116.9 634.3 116.9 636.3 116.9 C638.3 116.9 640.3 116.9 642.3 116.9 C644.3 116.9 646.3 116.9 648.3 116.9 C650.3 116.9 652.3 116.9 654.3 116.9 C656.3 116.9 658.3 117.0 660.3 117.0 C662.3 117.0 664.3 117.0 666.3 117.0 C668.3 117.0 670.3 117.1 672.3 117.1 C674.3 117.1 676.3 117.1 678.3 117.2 C680.3 117.2 682.3 117.2 684.3 117.3 C686.3 117.3 688.3 117.3 690.3 117.4 C692.3 117.4 694.3 117.5 696.3 117.5 C698.3 117.6 700.3 117.6 702.3 117.7 C704.3 117.8 706.3 117.9 708.3 118.0 C710.3 118.1 712.3 118.3 714.3 118.4 C716.3 118.5 718.3 118.7 720.3 118.8 C722.3 119.0 724.3 119.1 726.3 119.3 C728.3 119.4 730.3 119.6 732.3 119.7 C734.3 119.8 736.3 120.0 738.3 120.1 C740.3 120.3 742.3 120.4 744.3 120.6 C746.3 120.7 748.2 120.9 750.2 121.1 C752.2 121.2 754.2 121.4 756.2 121.6 C758.2 121.8 760.2 122.0 762.2 122.2 C764.2 122.4 766.2 122.6 768.2 122.9 C770.2 123.1 772.1 123.4 774.1 123.7 C776.1 124.1 778.0 124.5 780.0 125.0 C781.9 125.5 783.8 126.1 785.7 126.7 C787.6 127.4 789.4 128.1 791.3 128.9 C793.1 129.7 794.9 130.6 796.6 131.5 C798.4 132.4 800.1 133.5 801.8 134.5 C803.5 135.6 805.2 136.7 806.8 137.9 C808.4 139.1 810.0 140.3 811.5 141.6 C813.0 142.9 814.5 144.2 815.9 145.6 C817.4 147.0 818.8 148.4 820.1 149.9 C821.5 151.3 822.8 152.9 824.1 154.4 C825.3 156.0 826.5 157.6 827.7 159.2 C828.8 160.8 829.9 162.5 831.0 164.2 C832.1 165.9 833.2 167.6 834.2 169.3 C835.2 171.0 836.2 172.7 837.2 174.4 C838.2 176.2 839.2 177.9 840.2 179.7 C841.2 181.4 842.1 183.2 843.0 185.0 C844.0 186.7 844.9 188.5 845.9 190.3 C846.8 192.0 847.7 193.8 848.6 195.6 C849.5 197.4 850.4 199.2 851.3 200.9 C852.2 202.7 853.1 204.5 854.0 206.3 C854.9 208.1 855.8 209.9 856.6 211.7 C857.5 213.5 858.3 215.4 859.2 217.2 C860.0 219.0 860.8 220.8 861.6 222.7 C862.4 224.5 863.1 226.4 864.0 228.2 C864.8 230.0 865.7 231.8 866.6 233.5 C867.6 235.3 868.5 237.1 869.5 238.8 C870.5 240.5 871.6 242.2 872.6 243.9 C873.7 245.6 874.8 247.3 875.9 249.0 C877.1 250.6 878.2 252.2 879.5 253.8 C880.7 255.4 881.9 256.9 883.2 258.5 C884.5 260.0 885.8 261.5 887.1 263.0 C888.4 264.5 889.8 266.0 891.1 267.5 C892.5 269.0 893.8 270.4 895.2 271.9 C896.6 273.3 898.1 274.7 899.5 276.1 C900.9 277.5 902.4 278.9 903.9 280.2 C905.3 281.6 906.8 283.0 908.3 284.3 C909.8 285.6 911.3 287.0 912.7 288.3 C914.2 289.7 915.7 291.0 917.2 292.3 C918.7 293.7 920.2 295.1 921.6 296.4 C923.0 297.8 924.5 299.2 925.9 300.6 C927.3 302.0 928.7 303.5 930.1 304.9 C931.5 306.4 932.8 307.8 934.2 309.3 C935.5 310.8 936.8 312.3 938.1 313.8 C939.4 315.4 940.7 316.9 942.0 318.5 C943.2 320.0 944.5 321.6 945.7 323.2 C946.9 324.7 948.1 326.4 949.3 328.0 C950.5 329.6 951.7 331.2 952.8 332.8 C954.0 334.5 955.1 336.1 956.2 337.8 C957.3 339.4 958.5 341.1 959.6 342.8 C960.7 344.5 961.7 346.1 962.8 347.8 C963.9 349.5 965.0 351.2 966.0 352.9 C967.1 354.6 968.1 356.3 969.1 358.0 C970.2 359.8 971.2 361.5 972.2 363.2 C973.2 364.9 974.2 366.7 975.2 368.4 C976.1 370.2 977.1 371.9 978.1 373.7 C979.0 375.4 980.0 377.2 980.9 379.0 C981.8 380.8 982.6 382.6 983.4 384.4 C984.3 386.2 985.1 388.0 985.9 389.8 C986.8 391.6 987.7 393.4 988.6 395.2 C989.5 396.9 990.5 398.7 991.4 400.4 C992.4 402.2 993.4 403.9 994.3 405.7 C995.3 407.4 996.3 409.2 997.2 411.0 C998.2 412.7 999.1 414.5 1000.1 416.2 C1001.0 418.0 1001.9 419.8 1002.8 421.6 C1003.8 423.4 1004.7 425.1 1005.6 426.9 C1006.5 428.7 1007.4 430.5 1008.2 432.3 C1009.1 434.1 1010.0 435.9 1010.9 437.7 C1011.7 439.5 1012.6 441.3 1013.4 443.1 C1014.3 444.9 1015.1 446.8 1015.9 448.6 C1016.8 450.4 1017.6 452.2 1018.4 454.1 C1019.2 455.9 1020.0 457.7 1020.8 459.6 C1021.7 461.4 1022.5 463.2 1023.3 465.0 C1024.2 466.8 1025.0 468.6 1025.9 470.4 C1026.8 472.2 1027.7 474.0 1028.6 475.8 C1029.4 477.6 1030.3 479.4 1031.2 481.2 C1032.0 483.1 1032.8 484.9 1033.6 486.7 C1034.5 488.5 1035.3 490.4 1036.1 492.2 C1036.8 494.0 1037.6 495.9 1038.4 497.7 C1039.2 499.6 1040.0 501.4 1040.8 503.2 C1041.6 505.1 1042.4 506.9 1043.2 508.8 C1044.0 510.6 1044.8 512.4 1045.6 514.3 C1046.4 516.1 1047.2 517.9 1048.0 519.8 C1048.8 521.6 1049.6 523.5 1050.3 525.3 C1051.1 527.1 1051.9 529.0 1052.7 530.8 C1053.5 532.6 1054.3 534.5 1055.1 536.3 C1055.9 538.1 1056.7 540.0 1057.5 541.8 C1058.3 543.7 1059.1 545.5 1059.9 547.3 C1060.7 549.2 1061.5 551.0 1062.3 552.8 C1063.1 554.7 1063.9 556.5 1064.7 558.4 C1065.5 560.2 1066.3 562.0 1067.1 563.9 C1067.9 565.7 1068.7 567.5 1069.5 569.4 C1070.3 571.2 1071.1 573.1 1071.8 574.9 C1072.6 576.7 1073.4 578.6 1074.2 580.4 C1075.0 582.2 1075.8 584.1 1076.6 585.9 C1077.5 587.7 1078.3 589.6 1079.1 591.4 C1080.0 593.2 1080.8 595.0 1081.7 596.8 C1082.5 598.6 1083.4 600.4 1084.2 602.3 C1085.0 604.1 1085.8 605.9 1086.6 607.7 C1087.4 609.6 1088.2 611.4 1089.0 613.3 C1089.8 615.1 1090.6 616.9 1091.4 618.8 C1092.1 620.6 1092.9 622.5 1093.7 624.3 C1094.4 626.2 1095.2 628.0 1096.0 629.9 C1096.7 631.7 1097.5 633.6 1098.2 635.4 C1099.0 637.3 1099.7 639.2 1100.5 641.0 C1101.2 642.9 1101.9 644.7 1102.6 646.6 C1103.3 648.5 1104.0 650.4 1104.7 652.3 C1105.4 654.1 1106.0 656.0 1106.7 657.9 C1107.3 659.8 1107.9 661.7 1108.6 663.6 C1109.2 665.5 1109.8 667.4 1110.4 669.3 C1111.1 671.2 1111.7 673.1 1112.3 675.0 C1112.9 677.0 1113.5 678.9 1114.2 680.8 C1114.8 682.7 1115.4 684.6 1116.0 686.5 C1116.6 688.4 1117.3 690.3 1117.9 692.2 C1118.5 694.1 1119.1 696.0 1119.7 697.9 C1120.3 699.8 1120.9 701.7 1121.5 703.6 C1122.2 705.5 1122.8 707.4 1123.4 709.3 C1124.0 711.3 1124.5 713.2 1125.1 715.1 C1125.7 717.0 1126.3 718.9 1126.9 720.8 C1127.5 722.7 1128.1 724.6 1128.7 726.5 C1129.3 728.5 1129.9 730.4 1130.6 732.3 C1131.2 734.2 1131.8 736.1 1132.4 738.0 C1133.0 739.9 1133.7 741.8 1134.3 743.7 C1134.9 745.6 1135.5 747.5 1136.2 749.4 C1136.8 751.3 1137.4 753.2 1138.0 755.1 C1138.6 757.0 1139.2 758.9 1139.8 760.8 C1140.4 762.7 1141.0 764.7 1141.6 766.6 C1142.2 768.5 1142.8 770.4 1143.4 772.3 C1143.9 774.2 1144.5 776.1 1145.1 778.0 C1145.7 780.0 1146.3 781.9 1146.9 783.8 C1147.5 785.7 1148.1 787.6 1148.8 789.5 C1149.4 791.4 1150.0 793.3 1150.6 795.2 C1151.2 797.1 1151.9 799.0 1152.5 800.9 C1153.2 802.8 1153.8 804.7 1154.5 806.6 C1155.3 808.4 1156.0 810.3 1156.7 812.2 C1157.5 814.0 1158.3 815.9 1159.0 817.7 C1159.8 819.5 1160.6 821.4 1161.4 823.2 C1162.2 825.0 1163.0 826.9 1163.8 828.7 C1164.7 830.5 1165.5 832.4 1166.3 834.2 C1167.1 836.0 1168.0 837.8 1168.8 839.6 C1169.6 841.5 1170.5 843.3 1171.3 845.1 C1172.2 846.9 1173.0 848.7 1173.9 850.5 C1174.8 852.3 1175.7 854.1 1176.7 855.8 C1177.6 857.6 1178.6 859.3 1179.7 861.0 C1180.7 862.7 1181.8 864.4 1182.9 866.1 C1184.0 867.7 1185.2 869.4 1186.4 871.0 C1187.5 872.6 1188.7 874.2 1190.0 875.8 C1191.2 877.3 1192.5 878.9 1193.8 880.4 C1195.2 881.9 1196.6 883.3 1198.0 884.7 C1199.4 886.1 1200.9 887.5 1202.4 888.8 C1203.9 890.1 1205.4 891.4 1207.0 892.6 C1208.6 893.8 1210.2 895.0 1211.8 896.2 C1213.5 897.3 1215.1 898.4 1216.8 899.5 C1218.5 900.5 1220.2 901.6 1222.0 902.5 C1223.7 903.5 1225.5 904.4 1227.3 905.3 C1229.1 906.2 1230.9 907.0 1232.8 907.8 C1234.6 908.6 1236.5 909.3 1238.3 910.0 C1240.2 910.7 1242.1 911.4 1244.0 912.0 C1245.9 912.7 1247.8 913.3 1249.7 914.0 C1251.6 914.6 1253.5 915.2 1255.4 915.8 C1257.3 916.4 1259.2 916.9 1261.2 917.5 C1263.1 918.1 1265.0 918.6 1266.9 919.2 C1268.9 919.7 1270.8 920.2 1272.7 920.7 C1274.7 921.2 1276.6 921.7 1278.5 922.2 C1280.5 922.7 1282.4 923.1 1284.4 923.6 C1286.3 924.0 1288.3 924.5 1290.3 924.9 C1292.2 925.3 1294.2 925.7 1296.1 926.2 C1298.1 926.6 1300.0 927.0 1302.0 927.5 C1303.9 927.9 1305.9 928.3 1307.8 928.8 C1309.8 929.2 1311.8 929.6 1313.7 930.1 C1315.7 930.5 1317.6 930.9 1319.6 931.2 C1321.6 931.6 1323.5 932.0 1325.5 932.3 C1327.5 932.7 1329.5 933.0 1331.4 933.4 C1333.4 933.8 1335.4 934.1 1337.3 934.5 C1339.3 935.0 1341.2 935.4 1343.1 935.9 C1345.1 936.4 1347.0 937.0 1348.9 937.5 C1350.9 938.0 1352.8 938.6 1354.7 939.1 C1356.7 939.6 1358.6 940.1 1360.5 940.6 C1362.5 941.1 1364.4 941.5 1366.4 942.0 C1368.3 942.5 1370.3 942.9 1372.2 943.3 C1374.2 943.8 1376.1 944.2 1378.1 944.7 C1380.0 945.1 1382.0 945.5 1384.0 946.0 C1385.9 946.4 1387.9 946.8 1389.8 947.3 C1391.8 947.7 1393.7 948.1 1395.7 948.5 C1397.7 948.9 1399.6 949.3 1401.6 949.8 C1403.5 950.2 1405.5 950.6 1407.5 951.0 C1409.4 951.4 1411.4 951.8 1413.3 952.2 C1415.3 952.5 1417.3 952.9 1419.2 953.3 C1421.2 953.7 1423.2 954.1 1425.1 954.4 C1427.1 954.8 1429.1 955.2 1431.0 955.6 C1433.0 955.9 1435.0 956.3 1436.9 956.6 C1438.9 957.0 1440.9 957.4 1442.9 957.7 C1444.8 958.0 1446.8 958.4 1448.8 958.7 C1450.8 959.0 1452.7 959.4 1454.7 959.7 C1456.7 960.0 1458.7 960.3 1460.6 960.6 C1462.6 960.9 1464.6 961.2 1466.6 961.5 C1468.6 961.8 1470.5 962.0 1472.5 962.3 C1474.5 962.6 1476.5 962.8 1478.5 963.1 C1480.5 963.3 1482.5 963.6 1484.4 963.8 C1486.4 964.1 1488.4 964.3 1490.4 964.5 C1492.4 964.7 1494.4 965.0 1496.4 965.2 C1498.4 965.4 1500.4 965.6 1502.4 965.8 C1504.3 966.1 1506.3 966.3 1508.3 966.5 C1510.3 966.7 1512.3 966.9 1514.3 967.1 C1516.3 967.4 1518.3 967.6 1520.3 967.8 C1522.3 968.0 1524.2 968.2 1526.2 968.4 C1528.2 968.6 1530.2 968.8 1532.2 969.0 C1534.2 969.2 1536.2 969.4 1538.2 969.6 C1540.2 969.8 1542.2 970.0 1544.2 970.2 C1546.2 970.4 1548.2 970.6 1550.1 970.8 C1552.1 971.0 1554.1 971.2 1556.1 971.4 C1558.1 971.6 1560.1 971.7 1562.1 971.9 C1564.1 972.1 1566.1 972.3 1568.1 972.4 C1570.1 972.6 1572.1 972.8 1574.1 973.0 C1576.1 973.1 1578.1 973.3 1580.1 973.5 C1582.1 973.6 1584.0 973.8 1586.0 974.0 C1588.0 974.1 1590.0 974.3 1592.0 974.4 C1594.0 974.6 1596.0 974.7 1598.0 974.9 C1600.0 975.0 1602.0 975.2 1604.0 975.3 C1606.0 975.5 1608.0 975.6 1610.0 975.8 C1612.0 975.9 1614.0 976.0 1616.0 976.1 C1618.0 976.2 1620.0 976.4 1622.0 976.5 C1624.0 976.6 1626.0 976.7 1628.0 976.7 C1630.0 976.8 1632.0 976.9 1634.0 977.0 C1636.0 977.1 1638.0 977.2 1640.0 977.2 C1642.0 977.3 1644.3 977.4 1646.0 977.5 C1647.7 977.5 1649.3 977.6 1650.0 977.6" fill="none" stroke="#ff0000" stroke-width="6.8" stroke-linecap="round" stroke-linejoin="round"/>
<line x1="1400.5" y1="118.4" x2="1511.5" y2="118.4" stroke="#00ff00" stroke-width="7" stroke-linecap="round"/>
<line x1="1400.5" y1="193.4" x2="1511.5" y2="193.4" stroke="#000000" stroke-width="7" stroke-linecap="round"/>
<line x1="1400.5" y1="268.3" x2="1511.5" y2="268.3" stroke="#ff0000" stroke-width="7" stroke-linecap="round"/>
<rect x="298.0" y="19.0" width="6.0" height="1055.0" fill="#000000"/>
<rect x="1727.0" y="19.0" width="5.0" height="1055.0" fill="#000000"/>
<rect x="298.0" y="19.0" width="1434.0" height="5.0" fill="#000000"/>
<rect x="298.0" y="1068.0" width="1434.0" height="6.0" fill="#000000"/>
</g>
<g stroke="#000" stroke-linecap="round">
<line x1="280.3" y1="1071.5" x2="300.0" y2="1071.5" stroke-width="5"/>
<line x1="1729" y1="1071.5" x2="1707.0" y2="1071.5" stroke-width="5" stroke-linecap="butt"/>
<line x1="290.4" y1="975.5" x2="300.0" y2="975.5" stroke-width="5"/>
<line x1="1729" y1="975.5" x2="1717.0" y2="975.5" stroke-width="5" stroke-linecap="butt"/>
<line x1="280.3" y1="879.5" x2="300.0" y2="879.5" stroke-width="5"/>
<line x1="1729" y1="879.5" x2="1707.0" y2="879.5" stroke-width="5" stroke-linecap="butt"/>
<line x1="290.4" y1="784.5" x2="300.0" y2="784.5" stroke-width="5"/>
<line x1="1729" y1="784.5" x2="1717.0" y2="784.5" stroke-width="5" stroke-linecap="butt"/>
<line x1="280.3" y1="689.5" x2="300.0" y2="689.5" stroke-width="5"/>
<line x1="1729" y1="689.5" x2="1707.0" y2="689.5" stroke-width="5" stroke-linecap="butt"/>
<line x1="290.4" y1="593.5" x2="300.0" y2="593.5" stroke-width="5"/>
<line x1="1729" y1="593.5" x2="1717.0" y2="593.5" stroke-width="5" stroke-linecap="butt"/>
<line x1="280.3" y1="498.5" x2="300.0" y2="498.5" stroke-width="5"/>
<line x1="1729" y1="498.5" x2="1707.0" y2="498.5" stroke-width="5" stroke-linecap="butt"/>
<line x1="290.4" y1="402.5" x2="300.0" y2="402.5" stroke-width="5"/>
<line x1="1729" y1="402.5" x2="1717.0" y2="402.5" stroke-width="5" stroke-linecap="butt"/>
<line x1="280.3" y1="307.5" x2="300.0" y2="307.5" stroke-width="5"/>
<line x1="1729" y1="307.5" x2="1707.0" y2="307.5" stroke-width="5" stroke-linecap="butt"/>
<line x1="290.4" y1="212.5" x2="300.0" y2="212.5" stroke-width="5"/>
<line x1="1729" y1="212.5" x2="1717.0" y2="212.5" stroke-width="5" stroke-linecap="butt"/>
<line x1="280.3" y1="116.5" x2="300.0" y2="116.5" stroke-width="5"/>
<line x1="1729" y1="116.5" x2="1707.0" y2="116.5" stroke-width="5" stroke-linecap="butt"/>
<line x1="290.4" y1="21.5" x2="300.0" y2="21.5" stroke-width="5"/>
<line x1="1729" y1="21.5" x2="1717.0" y2="21.5" stroke-width="5" stroke-linecap="butt"/>
<line x1="363.0" y1="1071.0" x2="363.0" y2="1092.0" stroke-width="6"/>
<line x1="363.0" y1="22.5" x2="363.0" y2="41.8" stroke-width="6"/>
<line x1="487.0" y1="1071.0" x2="487.0" y2="1081.0" stroke-width="6"/>
<line x1="487.0" y1="22.5" x2="487.0" y2="32.0" stroke-width="6"/>
<line x1="612.0" y1="1071.0" x2="612.0" y2="1092.0" stroke-width="6"/>
<line x1="612.0" y1="22.5" x2="612.0" y2="41.8" stroke-width="6"/>
<line x1="736.0" y1="1071.0" x2="736.0" y2="1081.0" stroke-width="6"/>
<line x1="736.0" y1="22.5" x2="736.0" y2="32.0" stroke-width="6"/>
<line x1="860.0" y1="1071.0" x2="860.0" y2="1092.0" stroke-width="6"/>
<line x1="860.0" y1="22.5" x2="860.0" y2="41.8" stroke-width="6"/>
<line x1="984.0" y1="1071.0" x2="984.0" y2="1081.0" stroke-width="6"/>
<line x1="984.0" y1="22.5" x2="984.0" y2="32.0" stroke-width="6"/>
<line x1="1109.0" y1="1071.0" x2="1109.0" y2="1092.0" stroke-width="6"/>
<line x1="1109.0" y1="22.5" x2="1109.0" y2="41.8" stroke-width="6"/>
<line x1="1233.0" y1="1071.0" x2="1233.0" y2="1081.0" stroke-width="6"/>
<line x1="1233.0" y1="22.5" x2="1233.0" y2="32.0" stroke-width="6"/>
<line x1="1357.0" y1="1071.0" x2="1357.0" y2="1092.0" stroke-width="6"/>
<line x1="1357.0" y1="22.5" x2="1357.0" y2="41.8" stroke-width="6"/>
<line x1="1481.0" y1="1071.0" x2="1481.0" y2="1081.0" stroke-width="6"/>
<line x1="1481.0" y1="22.5" x2="1481.0" y2="32.0" stroke-width="6"/>
<line x1="1606.0" y1="1071.0" x2="1606.0" y2="1092.0" stroke-width="6"/>
<line x1="1606.0" y1="22.5" x2="1606.0" y2="41.8" stroke-width="6"/>
<line x1="1729.5" y1="1071.0" x2="1729.5" y2="1081.0" stroke-width="5"/>
<line x1="1729.5" y1="22.5" x2="1729.5" y2="32.0" stroke-width="5"/>
</g>
<g font-family="'Liberation Sans', sans-serif" font-weight="bold" font-size="100" style="font-kerning:none" text-rendering="geometricPrecision" stroke-width="1" stroke-linejoin="round">
<text transform="translate(234.48 1089.47) scale(0.6390 0.6921)" fill="#000000" stroke="#000000">0</text>
<text transform="translate(198.94 897.37) scale(0.6390 0.6921)" fill="#000000" stroke="#000000">20</text>
<text transform="translate(198.94 707.42) scale(0.6390 0.6921)" fill="#000000" stroke="#000000">40</text>
<text transform="translate(198.94 516.17) scale(0.6390 0.6921)" fill="#000000" stroke="#000000">60</text>
<text transform="translate(198.94 325.32) scale(0.6390 0.6921)" fill="#000000" stroke="#000000">80</text>
<text transform="translate(163.41 134.17) scale(0.6390 0.6921)" fill="#000000" stroke="#000000" clip-path="url(#c1)">100</text>
<text transform="translate(311.69 1156.32) scale(0.6390 0.6921)" fill="#000000" stroke="#000000">300</text>
<text transform="translate(558.74 1156.32) scale(0.6390 0.6921)" fill="#000000" stroke="#000000">400</text>
<text transform="translate(807.29 1156.32) scale(0.6390 0.6921)" fill="#000000" stroke="#000000">500</text>
<text transform="translate(1055.84 1156.32) scale(0.6390 0.6921)" fill="#000000" stroke="#000000">600</text>
<text transform="translate(1305.39 1156.32) scale(0.6390 0.6921)" fill="#000000" stroke="#000000">700</text>
<text transform="translate(1553.94 1156.32) scale(0.6390 0.6921)" fill="#000000" stroke="#000000">800</text>
<text transform="translate(544.96 99.10) scale(0.6208 0.6744)" fill="#00ff00" stroke="#00ff00">436K</text>
<text transform="translate(752.72 99.30) scale(0.5781 0.6366)" fill="#000000" stroke="#000000">458K</text>
<text transform="translate(888.92 190.80) scale(0.5803 0.6323)" fill="#ff0000" stroke="#ff0000">460K</text>
<text transform="translate(1525.99 136.10) scale(0.6600 0.6410)" fill="#000000" stroke="#000000" clip-path="url(#c2)">1</text>
<text transform="translate(1528.86 210.38) scale(0.5708 0.6156)" fill="#000000" stroke="#000000">Cu2a</text>
<text transform="translate(1528.81 285.40) scale(0.5827 0.5948)" fill="#000000" stroke="#000000">Cu2b</text>
<text transform="translate(548.95 414.00) scale(0.5324 0.5782)" fill="#ff0000" stroke="#ff0000">Weight loss:</text>
<text transform="translate(549.16 484.42) scale(0.5317 0.5946)" fill="#ff0000" stroke="#ff0000">90.23%</text>
<text transform="translate(313.74 585.90) scale(0.5834 0.6363)" fill="#00ff00" stroke="#00ff00">Weight loss:</text>
<text transform="translate(314.00 661.27) scale(0.5771 0.6483)" fill="#00ff00" stroke="#00ff00">97.89%</text>
<text transform="translate(461.24 759.80) scale(0.5799 0.6335)" fill="#000000" stroke="#000000">Weight loss:</text>
<text transform="translate(461.11 835.77) scale(0.5753 0.6483)" fill="#000000" stroke="#000000" clip-path="url(#c3)">92.41%</text>
<text transform="translate(1152.16 583.00) scale(0.5747 0.6377)" fill="#ff0000" stroke="#ff0000">Residue: 9.77%</text>
<text transform="translate(1309.96 743.00) scale(0.5741 0.6377)" fill="#000000" stroke="#000000">Residue: 7.59%</text>
<text transform="translate(1313.19 862.00) scale(0.5691 0.6236)" fill="#00ff00" stroke="#00ff00" clip-path="url(#c4)">Residue: 2.11%</text>
<text transform="translate(709.81 1283.80) scale(0.7941 0.8631)" fill="#000000" stroke="#000000">Temperature (K)</text>
<text transform="translate(88.80 772.78) rotate(-90) scale(0.8470 0.8673)" fill="#000" stroke="#000" stroke-width="1.6" stroke-linejoin="round">Weight (%)</text>
</g>
<g shape-rendering="crispEdges">
<line x1="370.0" y1="122.5" x2="370.0" y2="1011.6" stroke="#00ff00" stroke-width="4"/>
<polygon points="370.0,1039.6 362.0,1009.6 378.0,1009.6" fill="#00ff00"/>
<line x1="545.0" y1="116.6" x2="545.0" y2="984.0" stroke="#000000" stroke-width="4"/>
<polygon points="545.0,1012.0 537.0,982.0 553.0,982.0" fill="#000000"/>
<line x1="666.0" y1="126.7" x2="666.0" y2="947.3" stroke="#ff0000" stroke-width="4"/>
<polygon points="666.0,975.3 658.0,945.3 674.0,945.3" fill="#ff0000"/>
<line x1="1337.4" y1="615.0" x2="1227.6" y2="870.9" stroke="#000000" stroke-width="3.8"/>
<polygon points="1217.2,895.3 1221.1,866.0 1235.8,872.3" fill="#000000"/>
<line x1="1326.9" y1="770.8" x2="1252.4" y2="926.4" stroke="#000000" stroke-width="3.8"/>
<polygon points="1240.9,950.3 1246.0,921.1 1260.4,928.1" fill="#000000"/>
<line x1="1468.4" y1="876.3" x2="1319.7" y2="1017.7" stroke="#000000" stroke-width="3.8"/>
<polygon points="1300.5,1036.0 1315.6,1010.6 1326.7,1022.2" fill="#000000"/>
<path d="M365.30 1043.00h3.00a2.00 2.00 0 0 1 0 4.00h-3.00a2.00 2.00 0 0 1 0 -4.00zM380.85 1043.00h3.00a2.00 2.00 0 0 1 0 4.00h-3.00a2.00 2.00 0 0 1 0 -4.00zM396.40 1043.00h3.00a2.00 2.00 0 0 1 0 4.00h-3.00a2.00 2.00 0 0 1 0 -4.00zM411.95 1043.00h3.00a2.00 2.00 0 0 1 0 4.00h-3.00a2.00 2.00 0 0 1 0 -4.00zM427.50 1043.00h3.00a2.00 2.00 0 0 1 0 4.00h-3.00a2.00 2.00 0 0 1 0 -4.00zM443.05 1043.00h3.00a2.00 2.00 0 0 1 0 4.00h-3.00a2.00 2.00 0 0 1 0 -4.00zM458.60 1043.00h3.00a2.00 2.00 0 0 1 0 4.00h-3.00a2.00 2.00 0 0 1 0 -4.00zM474.15 1043.00h3.00a2.00 2.00 0 0 1 0 4.00h-3.00a2.00 2.00 0 0 1 0 -4.00zM489.70 1043.00h3.00a2.00 2.00 0 0 1 0 4.00h-3.00a2.00 2.00 0 0 1 0 -4.00zM505.25 1043.00h3.00a2.00 2.00 0 0 1 0 4.00h-3.00a2.00 2.00 0 0 1 0 -4.00zM520.80 1043.00h3.00a2.00 2.00 0 0 1 0 4.00h-3.00a2.00 2.00 0 0 1 0 -4.00zM536.35 1043.00h3.00a2.00 2.00 0 0 1 0 4.00h-3.00a2.00 2.00 0 0 1 0 -4.00zM551.90 1043.00h3.00a2.00 2.00 0 0 1 0 4.00h-3.00a2.00 2.00 0 0 1 0 -4.00zM567.45 1043.00h3.00a2.00 2.00 0 0 1 0 4.00h-3.00a2.00 2.00 0 0 1 0 -4.00zM583.00 1043.00h3.00a2.00 2.00 0 0 1 0 4.00h-3.00a2.00 2.00 0 0 1 0 -4.00zM598.55 1043.00h3.00a2.00 2.00 0 0 1 0 4.00h-3.00a2.00 2.00 0 0 1 0 -4.00zM614.10 1043.00h3.00a2.00 2.00 0 0 1 0 4.00h-3.00a2.00 2.00 0 0 1 0 -4.00zM629.65 1043.00h3.00a2.00 2.00 0 0 1 0 4.00h-3.00a2.00 2.00 0 0 1 0 -4.00zM645.20 1043.00h3.00a2.00 2.00 0 0 1 0 4.00h-3.00a2.00 2.00 0 0 1 0 -4.00zM660.75 1043.00h3.00a2.00 2.00 0 0 1 0 4.00h-3.00a2.00 2.00 0 0 1 0 -4.00zM676.30 1043.00h3.00a2.00 2.00 0 0 1 0 4.00h-3.00a2.00 2.00 0 0 1 0 -4.00zM691.85 1043.00h3.00a2.00 2.00 0 0 1 0 4.00h-3.00a2.00 2.00 0 0 1 0 -4.00zM707.40 1043.00h3.00a2.00 2.00 0 0 1 0 4.00h-3.00a2.00 2.00 0 0 1 0 -4.00zM722.95 1043.00h3.00a2.00 2.00 0 0 1 0 4.00h-3.00a2.00 2.00 0 0 1 0 -4.00zM738.50 1043.00h3.00a2.00 2.00 0 0 1 0 4.00h-3.00a2.00 2.00 0 0 1 0 -4.00zM754.05 1043.00h3.00a2.00 2.00 0 0 1 0 4.00h-3.00a2.00 2.00 0 0 1 0 -4.00zM769.60 1043.00h3.00a2.00 2.00 0 0 1 0 4.00h-3.00a2.00 2.00 0 0 1 0 -4.00zM785.15 1043.00h3.00a2.00 2.00 0 0 1 0 4.00h-3.00a2.00 2.00 0 0 1 0 -4.00zM800.70 1043.00h3.00a2.00 2.00 0 0 1 0 4.00h-3.00a2.00 2.00 0 0 1 0 -4.00zM816.25 1043.00h3.00a2.00 2.00 0 0 1 0 4.00h-3.00a2.00 2.00 0 0 1 0 -4.00zM831.80 1043.00h3.00a2.00 2.00 0 0 1 0 4.00h-3.00a2.00 2.00 0 0 1 0 -4.00zM847.35 1043.00h3.00a2.00 2.00 0 0 1 0 4.00h-3.00a2.00 2.00 0 0 1 0 -4.00zM862.90 1043.00h3.00a2.00 2.00 0 0 1 0 4.00h-3.00a2.00 2.00 0 0 1 0 -4.00zM878.45 1043.00h3.00a2.00 2.00 0 0 1 0 4.00h-3.00a2.00 2.00 0 0 1 0 -4.00zM894.00 1043.00h3.00a2.00 2.00 0 0 1 0 4.00h-3.00a2.00 2.00 0 0 1 0 -4.00zM909.55 1043.00h3.00a2.00 2.00 0 0 1 0 4.00h-3.00a2.00 2.00 0 0 1 0 -4.00zM925.10 1043.00h3.00a2.00 2.00 0 0 1 0 4.00h-3.00a2.00 2.00 0 0 1 0 -4.00zM940.65 1043.00h3.00a2.00 2.00 0 0 1 0 4.00h-3.00a2.00 2.00 0 0 1 0 -4.00zM956.20 1043.00h3.00a2.00 2.00 0 0 1 0 4.00h-3.00a2.00 2.00 0 0 1 0 -4.00zM971.75 1043.00h3.00a2.00 2.00 0 0 1 0 4.00h-3.00a2.00 2.00 0 0 1 0 -4.00zM987.30 1043.00h3.00a2.00 2.00 0 0 1 0 4.00h-3.00a2.00 2.00 0 0 1 0 -4.00zM1002.85 1043.00h3.00a2.00 2.00 0 0 1 0 4.00h-3.00a2.00 2.00 0 0 1 0 -4.00zM1018.40 1043.00h3.00a2.00 2.00 0 0 1 0 4.00h-3.00a2.00 2.00 0 0 1 0 -4.00zM1033.95 1043.00h3.00a2.00 2.00 0 0 1 0 4.00h-3.00a2.00 2.00 0 0 1 0 -4.00zM1049.50 1043.00h3.00a2.00 2.00 0 0 1 0 4.00h-3.00a2.00 2.00 0 0 1 0 -4.00zM1065.05 1043.00h3.00a2.00 2.00 0 0 1 0 4.00h-3.00a2.00 2.00 0 0 1 0 -4.00zM1080.60 1043.00h3.00a2.00 2.00 0 0 1 0 4.00h-3.00a2.00 2.00 0 0 1 0 -4.00zM1096.15 1043.00h3.00a2.00 2.00 0 0 1 0 4.00h-3.00a2.00 2.00 0 0 1 0 -4.00zM1111.70 1043.00h3.00a2.00 2.00 0 0 1 0 4.00h-3.00a2.00 2.00 0 0 1 0 -4.00zM1127.25 1043.00h3.00a2.00 2.00 0 0 1 0 4.00h-3.00a2.00 2.00 0 0 1 0 -4.00zM1142.80 1043.00h3.00a2.00 2.00 0 0 1 0 4.00h-3.00a2.00 2.00 0 0 1 0 -4.00zM1158.35 1043.00h3.00a2.00 2.00 0 0 1 0 4.00h-3.00a2.00 2.00 0 0 1 0 -4.00zM1173.90 1043.00h3.00a2.00 2.00 0 0 1 0 4.00h-3.00a2.00 2.00 0 0 1 0 -4.00zM1189.45 1043.00h3.00a2.00 2.00 0 0 1 0 4.00h-3.00a2.00 2.00 0 0 1 0 -4.00zM1205.00 1043.00h3.00a2.00 2.00 0 0 1 0 4.00h-3.00a2.00 2.00 0 0 1 0 -4.00zM1220.55 1043.00h3.00a2.00 2.00 0 0 1 0 4.00h-3.00a2.00 2.00 0 0 1 0 -4.00zM1236.10 1043.00h3.00a2.00 2.00 0 0 1 0 4.00h-3.00a2.00 2.00 0 0 1 0 -4.00zM1251.65 1043.00h3.00a2.00 2.00 0 0 1 0 4.00h-3.00a2.00 2.00 0 0 1 0 -4.00z" fill="#00ff00" shape-rendering="auto"/>
<path d="M557.10 1001.00h3.00a2.00 2.00 0 0 1 0 4.00h-3.00a2.00 2.00 0 0 1 0 -4.00zM572.65 1001.00h3.00a2.00 2.00 0 0 1 0 4.00h-3.00a2.00 2.00 0 0 1 0 -4.00zM588.20 1001.00h3.00a2.00 2.00 0 0 1 0 4.00h-3.00a2.00 2.00 0 0 1 0 -4.00zM603.75 1001.00h3.00a2.00 2.00 0 0 1 0 4.00h-3.00a2.00 2.00 0 0 1 0 -4.00zM619.30 1001.00h3.00a2.00 2.00 0 0 1 0 4.00h-3.00a2.00 2.00 0 0 1 0 -4.00zM634.85 1001.00h3.00a2.00 2.00 0 0 1 0 4.00h-3.00a2.00 2.00 0 0 1 0 -4.00zM650.40 1001.00h3.00a2.00 2.00 0 0 1 0 4.00h-3.00a2.00 2.00 0 0 1 0 -4.00zM665.95 1001.00h3.00a2.00 2.00 0 0 1 0 4.00h-3.00a2.00 2.00 0 0 1 0 -4.00zM681.50 1001.00h3.00a2.00 2.00 0 0 1 0 4.00h-3.00a2.00 2.00 0 0 1 0 -4.00zM697.05 1001.00h3.00a2.00 2.00 0 0 1 0 4.00h-3.00a2.00 2.00 0 0 1 0 -4.00zM712.60 1001.00h3.00a2.00 2.00 0 0 1 0 4.00h-3.00a2.00 2.00 0 0 1 0 -4.00zM728.15 1001.00h3.00a2.00 2.00 0 0 1 0 4.00h-3.00a2.00 2.00 0 0 1 0 -4.00zM743.70 1001.00h3.00a2.00 2.00 0 0 1 0 4.00h-3.00a2.00 2.00 0 0 1 0 -4.00zM759.25 1001.00h3.00a2.00 2.00 0 0 1 0 4.00h-3.00a2.00 2.00 0 0 1 0 -4.00zM774.80 1001.00h3.00a2.00 2.00 0 0 1 0 4.00h-3.00a2.00 2.00 0 0 1 0 -4.00zM790.35 1001.00h3.00a2.00 2.00 0 0 1 0 4.00h-3.00a2.00 2.00 0 0 1 0 -4.00zM805.90 1001.00h3.00a2.00 2.00 0 0 1 0 4.00h-3.00a2.00 2.00 0 0 1 0 -4.00zM821.45 1001.00h3.00a2.00 2.00 0 0 1 0 4.00h-3.00a2.00 2.00 0 0 1 0 -4.00zM837.00 1001.00h3.00a2.00 2.00 0 0 1 0 4.00h-3.00a2.00 2.00 0 0 1 0 -4.00zM852.55 1001.00h3.00a2.00 2.00 0 0 1 0 4.00h-3.00a2.00 2.00 0 0 1 0 -4.00zM868.10 1001.00h3.00a2.00 2.00 0 0 1 0 4.00h-3.00a2.00 2.00 0 0 1 0 -4.00zM883.65 1001.00h3.00a2.00 2.00 0 0 1 0 4.00h-3.00a2.00 2.00 0 0 1 0 -4.00zM899.20 1001.00h3.00a2.00 2.00 0 0 1 0 4.00h-3.00a2.00 2.00 0 0 1 0 -4.00zM914.75 1001.00h3.00a2.00 2.00 0 0 1 0 4.00h-3.00a2.00 2.00 0 0 1 0 -4.00zM930.30 1001.00h3.00a2.00 2.00 0 0 1 0 4.00h-3.00a2.00 2.00 0 0 1 0 -4.00zM945.85 1001.00h3.00a2.00 2.00 0 0 1 0 4.00h-3.00a2.00 2.00 0 0 1 0 -4.00zM961.40 1001.00h3.00a2.00 2.00 0 0 1 0 4.00h-3.00a2.00 2.00 0 0 1 0 -4.00zM976.95 1001.00h3.00a2.00 2.00 0 0 1 0 4.00h-3.00a2.00 2.00 0 0 1 0 -4.00zM992.50 1001.00h3.00a2.00 2.00 0 0 1 0 4.00h-3.00a2.00 2.00 0 0 1 0 -4.00zM1008.05 1001.00h3.00a2.00 2.00 0 0 1 0 4.00h-3.00a2.00 2.00 0 0 1 0 -4.00zM1023.60 1001.00h3.00a2.00 2.00 0 0 1 0 4.00h-3.00a2.00 2.00 0 0 1 0 -4.00zM1039.15 1001.00h3.00a2.00 2.00 0 0 1 0 4.00h-3.00a2.00 2.00 0 0 1 0 -4.00zM1054.70 1001.00h3.00a2.00 2.00 0 0 1 0 4.00h-3.00a2.00 2.00 0 0 1 0 -4.00zM1070.25 1001.00h3.00a2.00 2.00 0 0 1 0 4.00h-3.00a2.00 2.00 0 0 1 0 -4.00zM1085.80 1001.00h3.00a2.00 2.00 0 0 1 0 4.00h-3.00a2.00 2.00 0 0 1 0 -4.00zM1101.35 1001.00h3.00a2.00 2.00 0 0 1 0 4.00h-3.00a2.00 2.00 0 0 1 0 -4.00zM1116.90 1001.00h3.00a2.00 2.00 0 0 1 0 4.00h-3.00a2.00 2.00 0 0 1 0 -4.00zM1132.45 1001.00h3.00a2.00 2.00 0 0 1 0 4.00h-3.00a2.00 2.00 0 0 1 0 -4.00zM1148.00 1001.00h3.00a2.00 2.00 0 0 1 0 4.00h-3.00a2.00 2.00 0 0 1 0 -4.00zM1163.55 1001.00h3.00a2.00 2.00 0 0 1 0 4.00h-3.00a2.00 2.00 0 0 1 0 -4.00zM1179.10 1001.00h3.00a2.00 2.00 0 0 1 0 4.00h-3.00a2.00 2.00 0 0 1 0 -4.00zM1194.65 1001.00h3.00a2.00 2.00 0 0 1 0 4.00h-3.00a2.00 2.00 0 0 1 0 -4.00zM1210.20 1001.00h3.00a2.00 2.00 0 0 1 0 4.00h-3.00a2.00 2.00 0 0 1 0 -4.00zM1225.75 1001.00h3.00a2.00 2.00 0 0 1 0 4.00h-3.00a2.00 2.00 0 0 1 0 -4.00zM1241.30 1001.00h3.00a2.00 2.00 0 0 1 0 4.00h-3.00a2.00 2.00 0 0 1 0 -4.00zM1256.85 1001.00h3.00a2.00 2.00 0 0 1 0 4.00h-3.00a2.00 2.00 0 0 1 0 -4.00zM1272.40 1001.00h3.00a2.00 2.00 0 0 1 0 4.00h-3.00a2.00 2.00 0 0 1 0 -4.00zM1287.95 1001.00h3.00a2.00 2.00 0 0 1 0 4.00h-3.00a2.00 2.00 0 0 1 0 -4.00zM1303.50 1001.00h3.00a2.00 2.00 0 0 1 0 4.00h-3.00a2.00 2.00 0 0 1 0 -4.00zM1319.05 1001.00h3.00a2.00 2.00 0 0 1 0 4.00h-3.00a2.00 2.00 0 0 1 0 -4.00zM1334.60 1001.00h3.00a2.00 2.00 0 0 1 0 4.00h-3.00a2.00 2.00 0 0 1 0 -4.00zM1350.15 1001.00h3.00a2.00 2.00 0 0 1 0 4.00h-3.00a2.00 2.00 0 0 1 0 -4.00zM1365.70 1001.00h3.00a2.00 2.00 0 0 1 0 4.00h-3.00a2.00 2.00 0 0 1 0 -4.00zM1381.25 1001.00h3.00a2.00 2.00 0 0 1 0 4.00h-3.00a2.00 2.00 0 0 1 0 -4.00zM1396.80 1001.00h3.00a2.00 2.00 0 0 1 0 4.00h-3.00a2.00 2.00 0 0 1 0 -4.00zM1412.35 1001.00h3.00a2.00 2.00 0 0 1 0 4.00h-3.00a2.00 2.00 0 0 1 0 -4.00zM1427.90 1001.00h3.00a2.00 2.00 0 0 1 0 4.00h-3.00a2.00 2.00 0 0 1 0 -4.00zM1443.45 1001.00h3.00a2.00 2.00 0 0 1 0 4.00h-3.00a2.00 2.00 0 0 1 0 -4.00zM1459.00 1001.00h3.00a2.00 2.00 0 0 1 0 4.00h-3.00a2.00 2.00 0 0 1 0 -4.00zM1474.55 1001.00h3.00a2.00 2.00 0 0 1 0 4.00h-3.00a2.00 2.00 0 0 1 0 -4.00zM1490.10 1001.00h3.00a2.00 2.00 0 0 1 0 4.00h-3.00a2.00 2.00 0 0 1 0 -4.00zM1505.65 1001.00h3.00a2.00 2.00 0 0 1 0 4.00h-3.00a2.00 2.00 0 0 1 0 -4.00zM1521.20 1001.00h3.00a2.00 2.00 0 0 1 0 4.00h-3.00a2.00 2.00 0 0 1 0 -4.00zM1536.75 1001.00h3.00a2.00 2.00 0 0 1 0 4.00h-3.00a2.00 2.00 0 0 1 0 -4.00zM1552.30 1001.00h3.00a2.00 2.00 0 0 1 0 4.00h-3.00a2.00 2.00 0 0 1 0 -4.00zM1567.85 1001.00h3.00a2.00 2.00 0 0 1 0 4.00h-3.00a2.00 2.00 0 0 1 0 -4.00zM1583.40 1001.00h3.00a2.00 2.00 0 0 1 0 4.00h-3.00a2.00 2.00 0 0 1 0 -4.00zM1598.95 1001.00h3.00a2.00 2.00 0 0 1 0 4.00h-3.00a2.00 2.00 0 0 1 0 -4.00zM1614.50 1001.00h3.00a2.00 2.00 0 0 1 0 4.00h-3.00a2.00 2.00 0 0 1 0 -4.00zM1630.05 1001.00h3.00a2.00 2.00 0 0 1 0 4.00h-3.00a2.00 2.00 0 0 1 0 -4.00zM1645.60 1001.00h3.00a2.00 2.00 0 0 1 0 4.00h-3.00a2.00 2.00 0 0 1 0 -4.00z" fill="#000000" shape-rendering="auto"/>
<path d="M676.35 975.75h1.70a2.65 2.65 0 0 1 0 5.30h-1.70a2.65 2.65 0 0 1 0 -5.30zM691.90 975.75h1.70a2.65 2.65 0 0 1 0 5.30h-1.70a2.65 2.65 0 0 1 0 -5.30zM707.45 975.75h1.70a2.65 2.65 0 0 1 0 5.30h-1.70a2.65 2.65 0 0 1 0 -5.30zM723.00 975.75h1.70a2.65 2.65 0 0 1 0 5.30h-1.70a2.65 2.65 0 0 1 0 -5.30zM738.55 975.75h1.70a2.65 2.65 0 0 1 0 5.30h-1.70a2.65 2.65 0 0 1 0 -5.30zM754.10 975.75h1.70a2.65 2.65 0 0 1 0 5.30h-1.70a2.65 2.65 0 0 1 0 -5.30zM769.65 975.75h1.70a2.65 2.65 0 0 1 0 5.30h-1.70a2.65 2.65 0 0 1 0 -5.30zM785.20 975.75h1.70a2.65 2.65 0 0 1 0 5.30h-1.70a2.65 2.65 0 0 1 0 -5.30zM800.75 975.75h1.70a2.65 2.65 0 0 1 0 5.30h-1.70a2.65 2.65 0 0 1 0 -5.30zM816.30 975.75h1.70a2.65 2.65 0 0 1 0 5.30h-1.70a2.65 2.65 0 0 1 0 -5.30zM831.85 975.75h1.70a2.65 2.65 0 0 1 0 5.30h-1.70a2.65 2.65 0 0 1 0 -5.30zM847.40 975.75h1.70a2.65 2.65 0 0 1 0 5.30h-1.70a2.65 2.65 0 0 1 0 -5.30zM862.95 975.75h1.70a2.65 2.65 0 0 1 0 5.30h-1.70a2.65 2.65 0 0 1 0 -5.30zM878.50 975.75h1.70a2.65 2.65 0 0 1 0 5.30h-1.70a2.65 2.65 0 0 1 0 -5.30zM894.05 975.75h1.70a2.65 2.65 0 0 1 0 5.30h-1.70a2.65 2.65 0 0 1 0 -5.30zM909.60 975.75h1.70a2.65 2.65 0 0 1 0 5.30h-1.70a2.65 2.65 0 0 1 0 -5.30zM925.15 975.75h1.70a2.65 2.65 0 0 1 0 5.30h-1.70a2.65 2.65 0 0 1 0 -5.30zM940.70 975.75h1.70a2.65 2.65 0 0 1 0 5.30h-1.70a2.65 2.65 0 0 1 0 -5.30zM956.25 975.75h1.70a2.65 2.65 0 0 1 0 5.30h-1.70a2.65 2.65 0 0 1 0 -5.30zM971.80 975.75h1.70a2.65 2.65 0 0 1 0 5.30h-1.70a2.65 2.65 0 0 1 0 -5.30zM987.35 975.75h1.70a2.65 2.65 0 0 1 0 5.30h-1.70a2.65 2.65 0 0 1 0 -5.30zM1002.90 975.75h1.70a2.65 2.65 0 0 1 0 5.30h-1.70a2.65 2.65 0 0 1 0 -5.30zM1018.45 975.75h1.70a2.65 2.65 0 0 1 0 5.30h-1.70a2.65 2.65 0 0 1 0 -5.30zM1034.00 975.75h1.70a2.65 2.65 0 0 1 0 5.30h-1.70a2.65 2.65 0 0 1 0 -5.30zM1049.55 975.75h1.70a2.65 2.65 0 0 1 0 5.30h-1.70a2.65 2.65 0 0 1 0 -5.30zM1065.10 975.75h1.70a2.65 2.65 0 0 1 0 5.30h-1.70a2.65 2.65 0 0 1 0 -5.30zM1080.65 975.75h1.70a2.65 2.65 0 0 1 0 5.30h-1.70a2.65 2.65 0 0 1 0 -5.30zM1096.20 975.75h1.70a2.65 2.65 0 0 1 0 5.30h-1.70a2.65 2.65 0 0 1 0 -5.30zM1111.75 975.75h1.70a2.65 2.65 0 0 1 0 5.30h-1.70a2.65 2.65 0 0 1 0 -5.30zM1127.30 975.75h1.70a2.65 2.65 0 0 1 0 5.30h-1.70a2.65 2.65 0 0 1 0 -5.30zM1142.85 975.75h1.70a2.65 2.65 0 0 1 0 5.30h-1.70a2.65 2.65 0 0 1 0 -5.30zM1158.40 975.75h1.70a2.65 2.65 0 0 1 0 5.30h-1.70a2.65 2.65 0 0 1 0 -5.30zM1173.95 975.75h1.70a2.65 2.65 0 0 1 0 5.30h-1.70a2.65 2.65 0 0 1 0 -5.30zM1189.50 975.75h1.70a2.65 2.65 0 0 1 0 5.30h-1.70a2.65 2.65 0 0 1 0 -5.30zM1205.05 975.75h1.70a2.65 2.65 0 0 1 0 5.30h-1.70a2.65 2.65 0 0 1 0 -5.30zM1220.60 975.75h1.70a2.65 2.65 0 0 1 0 5.30h-1.70a2.65 2.65 0 0 1 0 -5.30zM1236.15 975.75h1.70a2.65 2.65 0 0 1 0 5.30h-1.70a2.65 2.65 0 0 1 0 -5.30zM1251.70 975.75h1.70a2.65 2.65 0 0 1 0 5.30h-1.70a2.65 2.65 0 0 1 0 -5.30zM1267.25 975.75h1.70a2.65 2.65 0 0 1 0 5.30h-1.70a2.65 2.65 0 0 1 0 -5.30zM1282.80 975.75h1.70a2.65 2.65 0 0 1 0 5.30h-1.70a2.65 2.65 0 0 1 0 -5.30zM1298.35 975.75h1.70a2.65 2.65 0 0 1 0 5.30h-1.70a2.65 2.65 0 0 1 0 -5.30zM1313.90 975.75h1.70a2.65 2.65 0 0 1 0 5.30h-1.70a2.65 2.65 0 0 1 0 -5.30zM1329.45 975.75h1.70a2.65 2.65 0 0 1 0 5.30h-1.70a2.65 2.65 0 0 1 0 -5.30zM1345.00 975.75h1.70a2.65 2.65 0 0 1 0 5.30h-1.70a2.65 2.65 0 0 1 0 -5.30zM1360.55 975.75h1.70a2.65 2.65 0 0 1 0 5.30h-1.70a2.65 2.65 0 0 1 0 -5.30zM1376.10 975.75h1.70a2.65 2.65 0 0 1 0 5.30h-1.70a2.65 2.65 0 0 1 0 -5.30zM1391.65 975.75h1.70a2.65 2.65 0 0 1 0 5.30h-1.70a2.65 2.65 0 0 1 0 -5.30zM1407.20 975.75h1.70a2.65 2.65 0 0 1 0 5.30h-1.70a2.65 2.65 0 0 1 0 -5.30zM1422.75 975.75h1.70a2.65 2.65 0 0 1 0 5.30h-1.70a2.65 2.65 0 0 1 0 -5.30zM1438.30 975.75h1.70a2.65 2.65 0 0 1 0 5.30h-1.70a2.65 2.65 0 0 1 0 -5.30zM1453.85 975.75h1.70a2.65 2.65 0 0 1 0 5.30h-1.70a2.65 2.65 0 0 1 0 -5.30zM1469.40 975.75h1.70a2.65 2.65 0 0 1 0 5.30h-1.70a2.65 2.65 0 0 1 0 -5.30zM1484.95 975.75h1.70a2.65 2.65 0 0 1 0 5.30h-1.70a2.65 2.65 0 0 1 0 -5.30zM1500.50 975.75h1.70a2.65 2.65 0 0 1 0 5.30h-1.70a2.65 2.65 0 0 1 0 -5.30zM1516.05 975.75h1.70a2.65 2.65 0 0 1 0 5.30h-1.70a2.65 2.65 0 0 1 0 -5.30zM1531.60 975.75h1.70a2.65 2.65 0 0 1 0 5.30h-1.70a2.65 2.65 0 0 1 0 -5.30zM1547.15 975.75h1.70a2.65 2.65 0 0 1 0 5.30h-1.70a2.65 2.65 0 0 1 0 -5.30zM1562.70 975.75h1.70a2.65 2.65 0 0 1 0 5.30h-1.70a2.65 2.65 0 0 1 0 -5.30zM1578.25 975.75h1.70a2.65 2.65 0 0 1 0 5.30h-1.70a2.65 2.65 0 0 1 0 -5.30zM1593.80 975.75h1.70a2.65 2.65 0 0 1 0 5.30h-1.70a2.65 2.65 0 0 1 0 -5.30zM1609.35 975.75h1.70a2.65 2.65 0 0 1 0 5.30h-1.70a2.65 2.65 0 0 1 0 -5.30zM1624.90 975.75h1.70a2.65 2.65 0 0 1 0 5.30h-1.70a2.65 2.65 0 0 1 0 -5.30zM1640.45 975.75h1.70a2.65 2.65 0 0 1 0 5.30h-1.70a2.65 2.65 0 0 1 0 -5.30z" fill="#ff0000" shape-rendering="auto"/>
</g>
<defs><clipPath id="c1"><rect x="-20" y="-120" width="206.85" height="107.59"/><rect x="-20.00" y="-12.91" width="24.64" height="60"/><rect x="22.90" y="-12.91" width="14.60" height="60"/><rect x="54.44" y="-12.91" width="132.40" height="60"/></clipPath><clipPath id="c2"><rect x="-20" y="-120" width="95.62" height="107.59"/><rect x="-20.00" y="-12.91" width="24.64" height="60"/><rect x="22.90" y="-12.91" width="14.60" height="60"/><rect x="54.44" y="-12.91" width="21.17" height="60"/></clipPath><clipPath id="c3"><rect x="-20" y="-120" width="379.16" height="107.59"/><rect x="-20.00" y="-12.91" width="219.27" height="60"/><rect x="217.53" y="-12.91" width="14.60" height="60"/><rect x="249.07" y="-12.91" width="110.09" height="60"/></clipPath><clipPath id="c4"><rect x="-20" y="-120" width="773.64" height="107.59"/><rect x="-20.00" y="-12.91" width="558.13" height="60"/><rect x="556.40" y="-12.91" width="14.60" height="60"/><rect x="587.94" y="-12.91" width="5.81" height="60"/><rect x="612.01" y="-12.91" width="14.60" height="60"/><rect x="643.55" y="-12.91" width="110.09" height="60"/></clipPath></defs>
</svg>
</body></html>
